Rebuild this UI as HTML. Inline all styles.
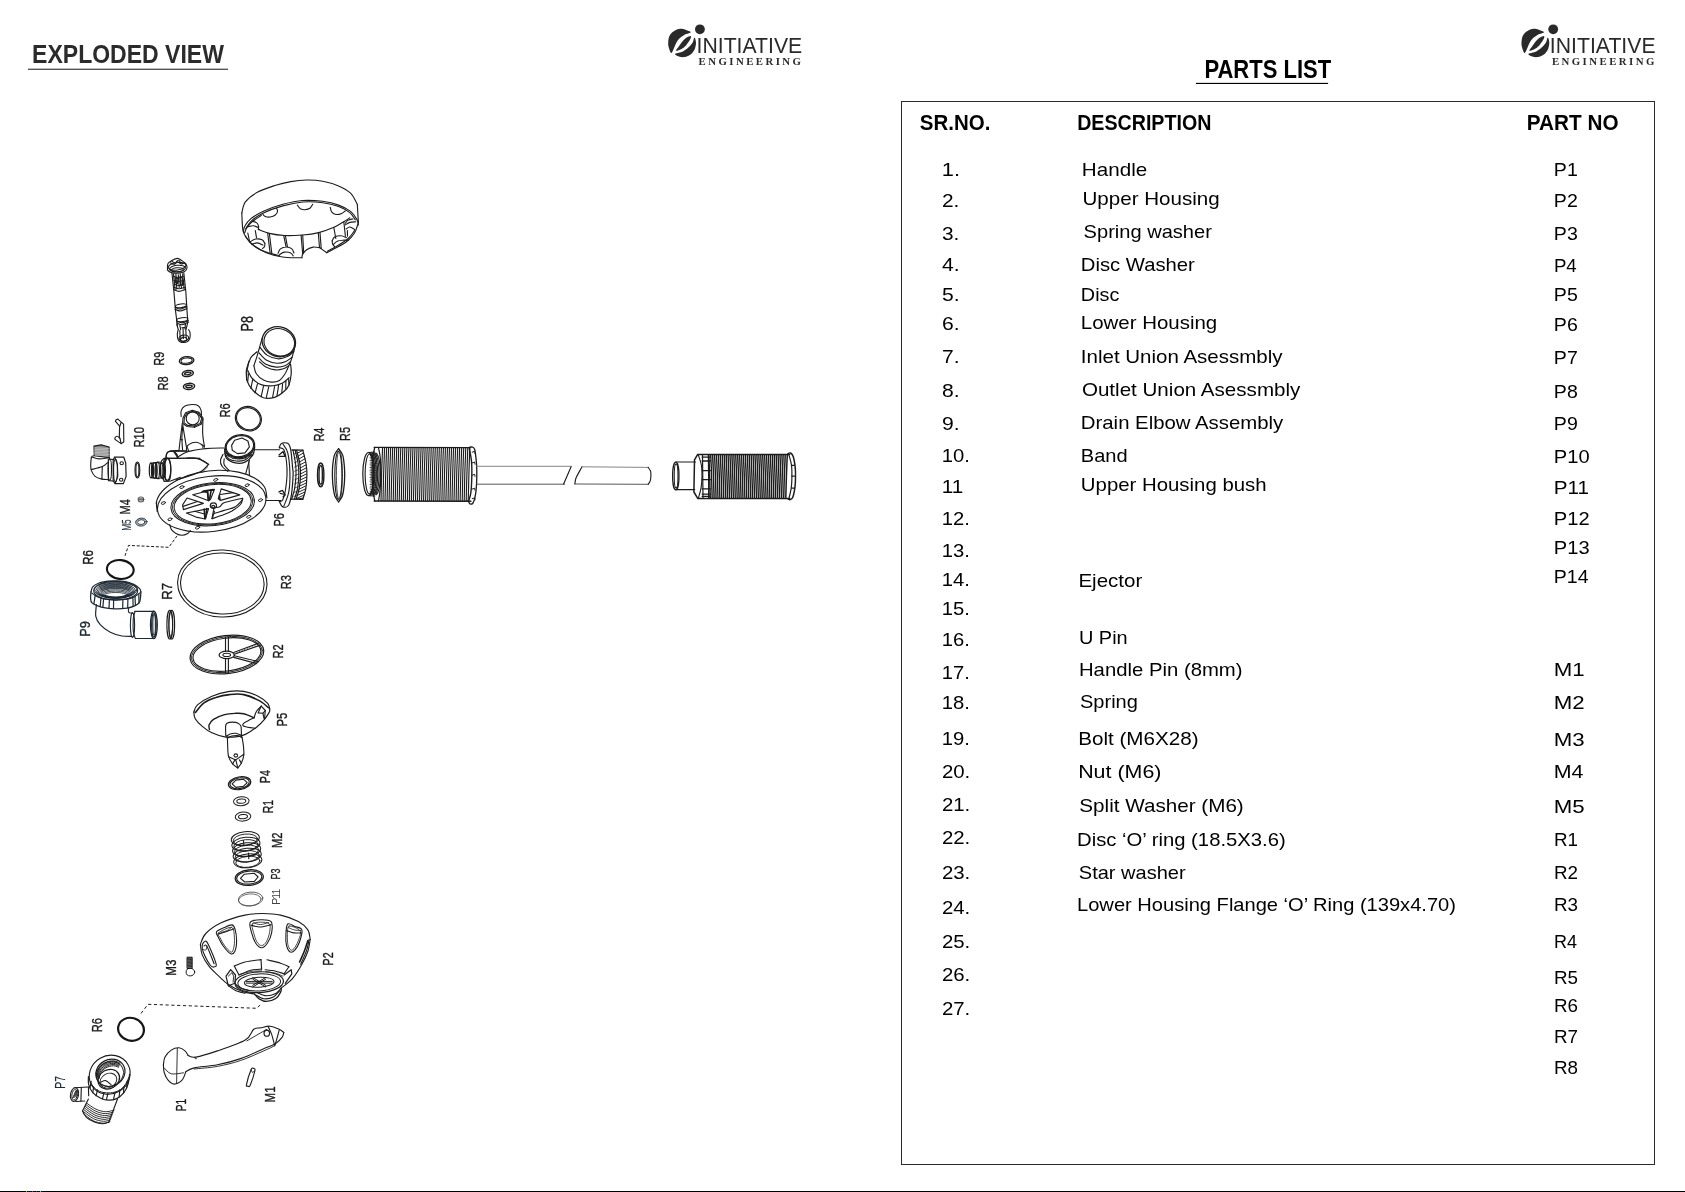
<!DOCTYPE html>
<html lang="en"><head><meta charset="utf-8"><title>Exploded View - Parts List</title>
<style>
html,body{margin:0;padding:0;background:#fff;}
body{width:1685px;height:1192px;overflow:hidden;position:relative;font-family:"Liberation Sans",sans-serif;}
svg{position:absolute;left:0;top:0;display:block;}
text{white-space:pre;}
</style></head><body>
<svg width="1685" height="1192" viewBox="0 0 1685 1192">
<rect x="0" y="0" width="1685" height="1192" fill="#fff"/>
<!-- frame lines -->
<rect x="28" y="68.7" width="200" height="1.1" fill="#2b2b2b"/>
<rect x="1195.9" y="82.85" width="132.2" height="1.15" fill="#000"/>
<rect x="901.5" y="101.5" width="753" height="1063" fill="none" stroke="#2b2b2b" stroke-width="1"/>
<rect x="0" y="1191" width="1685" height="1" fill="#000"/>
<rect x="26" y="1191" width="1" height="1" fill="#00ff00"/><rect x="28" y="1191" width="1" height="1" fill="#400000"/><rect x="30" y="1191" width="1" height="1" fill="#0000c0"/><rect x="32" y="1191" width="1" height="1" fill="#e02000"/><rect x="34" y="1191" width="1" height="1" fill="#000080"/><rect x="36" y="1191" width="1" height="1" fill="#006000"/><rect x="38" y="1191" width="1" height="1" fill="#0000c0"/><rect x="40" y="1191" width="1" height="1" fill="#20ff00"/><rect x="42" y="1191" width="1" height="1" fill="#0000e0"/>
<g id="logos">
<path d="M671.5 52.9 C670.5 53.5,669.6 49.9,669.0 48.2 C668.5 46.5,668.0 45.1,668.2 42.9 C668.3 40.7,668.5 37.3,669.8 35.2 C671.0 33.0,673.4 31.3,675.4 30.2 C677.4 29.2,679.9 28.8,681.7 28.8 C683.6 28.8,685.1 29.6,686.7 30.2 C688.2 30.8,691.2 31.6,690.9 32.3 C690.5 33.1,686.5 33.7,684.6 34.8 C682.6 35.9,680.4 37.4,678.9 39.0 C677.4 40.7,676.6 42.3,675.4 44.7 C674.2 47.0,672.6 52.4,671.5 52.9Z" fill="#2a2a2a" stroke="none"/>
<path d="M676.1 50.7 C676.5 51.1,679.4 50.1,681.0 49.2 C682.7 48.4,684.5 46.9,686.0 45.4 C687.4 43.8,689.0 41.6,689.8 40.1 C690.7 38.6,691.4 36.6,690.9 36.2 C690.4 35.8,688.1 36.7,686.7 37.6 C685.3 38.5,683.8 40.0,682.4 41.5 C681.1 43.0,679.6 45.3,678.6 46.8 C677.5 48.3,675.7 50.2,676.1 50.7Z" fill="#2a2a2a" stroke="none"/>
<path d="M675.0 54.0 C675.5 53.3,679.6 53.1,681.7 52.1 C683.9 51.0,686.3 49.4,688.1 47.8 C689.9 46.2,691.6 44.3,692.7 42.6 C693.7 40.8,693.9 37.6,694.4 37.6 C695.0 37.6,695.9 40.7,696.0 42.6 C696.1 44.4,695.6 47.0,694.8 48.9 C693.9 50.8,692.6 52.8,690.9 54.2 C689.2 55.5,686.5 56.6,684.6 57.0 C682.6 57.4,680.5 57.0,678.9 56.5 C677.3 56.0,674.6 54.7,675.0 54.0Z" fill="#2a2a2a" stroke="none"/>
<ellipse cx="699.9" cy="29.3" rx="4.9" ry="4.9" fill="#2a2a2a" stroke="none"/>
<path d="M1524.8 52.9 C1523.8 53.5,1522.9 49.9,1522.3 48.2 C1521.8 46.5,1521.3 45.1,1521.5 42.9 C1521.6 40.7,1521.8 37.3,1523.1 35.2 C1524.3 33.0,1526.7 31.3,1528.7 30.2 C1530.7 29.2,1533.2 28.8,1535.0 28.8 C1536.9 28.8,1538.4 29.6,1540.0 30.2 C1541.5 30.8,1544.5 31.6,1544.2 32.3 C1543.8 33.1,1539.8 33.7,1537.9 34.8 C1535.9 35.9,1533.7 37.4,1532.2 39.0 C1530.7 40.7,1529.9 42.3,1528.7 44.7 C1527.5 47.0,1525.9 52.4,1524.8 52.9Z" fill="#2a2a2a" stroke="none"/>
<path d="M1529.4 50.7 C1529.8 51.1,1532.7 50.1,1534.3 49.2 C1536.0 48.4,1537.8 46.9,1539.3 45.4 C1540.7 43.8,1542.3 41.6,1543.1 40.1 C1544.0 38.6,1544.7 36.6,1544.2 36.2 C1543.7 35.8,1541.4 36.7,1540.0 37.6 C1538.6 38.5,1537.1 40.0,1535.7 41.5 C1534.4 43.0,1532.9 45.3,1531.9 46.8 C1530.8 48.3,1529.0 50.2,1529.4 50.7Z" fill="#2a2a2a" stroke="none"/>
<path d="M1528.3 54.0 C1528.8 53.3,1532.9 53.1,1535.0 52.1 C1537.2 51.0,1539.6 49.4,1541.4 47.8 C1543.2 46.2,1544.9 44.3,1546.0 42.6 C1547.0 40.8,1547.2 37.6,1547.7 37.6 C1548.3 37.6,1549.2 40.7,1549.3 42.6 C1549.4 44.4,1548.9 47.0,1548.1 48.9 C1547.2 50.8,1545.9 52.8,1544.2 54.2 C1542.5 55.5,1539.8 56.6,1537.9 57.0 C1535.9 57.4,1533.8 57.0,1532.2 56.5 C1530.6 56.0,1527.9 54.7,1528.3 54.0Z" fill="#2a2a2a" stroke="none"/>
<ellipse cx="1553.2" cy="29.3" rx="4.9" ry="4.9" fill="#2a2a2a" stroke="none"/>
</g>

<g id="drawing" fill="none" stroke="#1c1c1c" stroke-width="1.12" stroke-linecap="round" stroke-linejoin="round">
<path d="M241.8 213.0 C242.4 211.2,242.8 205.3,245.4 201.9 C248.0 198.4,252.4 195.0,257.3 192.3 C262.2 189.6,269.3 187.3,274.8 185.5 C280.4 183.7,285.5 182.5,290.8 181.6 C296.1 180.6,301.4 180.0,306.7 180.0 C312.0 179.9,317.4 180.2,322.7 181.2 C328.0 182.2,334.0 183.9,338.6 185.9 C343.3 187.9,347.4 190.1,350.6 193.1 C353.7 196.2,356.2 202.4,357.3 204.3"/>
<path d="M357.3 204.3 L358.4 222.6"/>
<path d="M358.4 222.6 C357.7 224.3,356.5 229.8,354.5 233.0 C352.6 236.1,349.9 239.1,346.6 241.7 C343.3 244.3,337.9 246.7,334.6 248.5 C331.3 250.3,328.0 252.0,326.7 252.7"/>
<path d="M326.7 252.7 L323.1 250.1 L319.9 247.7"/>
<path d="M319.9 247.7 C318.7 247.6,315.3 246.8,313.1 247.1 C310.9 247.5,308.5 248.5,306.7 249.7 C305.0 250.9,303.5 252.8,302.7 254.1 C301.9 255.4,302.1 257.1,301.9 257.7"/>
<path d="M301.9 257.7 C300.1 257.7,294.5 257.9,290.8 257.7 C287.1 257.5,283.6 257.3,279.6 256.5 C275.6 255.7,271.0 254.5,266.9 252.9 C262.8 251.2,258.2 248.9,254.9 246.5 C251.6 244.1,248.9 241.2,247.0 238.5 C245.0 235.9,243.8 234.8,243.0 230.6 C242.1 226.3,242.0 216.0,241.8 213.0"/>
<path d="M243.4 231.4 C243.6 230.4,243.7 227.9,245.0 225.8 C246.2 223.7,248.0 221.0,250.9 218.6 C253.9 216.2,257.6 213.8,262.9 211.4 C268.2 209.1,276.2 206.1,282.8 204.3 C289.5 202.5,296.1 201.0,302.7 200.5 C309.4 200.0,316.7 200.6,322.7 201.3 C328.6 202.1,334.0 203.4,338.6 205.1 C343.3 206.8,347.5 209.1,350.6 211.4 C353.6 213.8,355.6 217.2,356.9 219.4 C358.2 221.7,358.1 224.1,358.4 225.0"/>
<path d="M245.8 228.6 C246.8 227.2,248.9 223.2,251.7 220.6 C254.6 218.0,257.7 215.7,262.9 213.2 C268.1 210.7,276.2 207.7,282.8 205.9 C289.5 204.0,296.1 202.6,302.7 202.0 C309.4 201.5,316.7 201.9,322.7 202.7 C328.6 203.4,334.1 204.8,338.6 206.5 C343.1 208.2,347.0 210.4,349.8 212.6 C352.6 214.9,354.4 218.6,355.3 219.8"/>
<path d="M244.6 233.0 C245.0 232.0,245.7 229.2,247.0 227.4 C248.2 225.5,249.7 223.8,252.1 221.8 C254.5 219.8,259.8 216.5,261.3 215.4"/>
<path d="M258.1 229.4 C260.0 230.0,264.9 232.3,269.3 233.4 C273.7 234.4,278.8 235.2,284.4 235.5 C290.0 235.8,297.0 235.4,302.7 235.0 C308.5 234.5,313.4 233.9,318.7 232.6 C324.0 231.2,330.4 228.8,334.6 227.0 C338.9 225.1,341.7 222.9,344.2 221.4 C346.7 219.9,348.8 218.4,349.8 217.8"/>
<path d="M262.5 213.7 C262.9 214.1,263.6 215.7,264.9 216.2 C266.1 216.8,268.3 217.3,270.1 217.0 C271.9 216.8,274.4 215.8,275.6 214.8 C276.9 213.8,277.5 211.9,277.6 210.8 C277.8 209.7,276.6 208.8,276.4 208.4"/>
<path d="M297.3 205.1 C297.8 205.7,299.1 207.9,300.4 208.7 C301.7 209.4,303.5 209.8,305.1 209.7 C306.7 209.6,308.7 209.2,309.9 208.3 C311.2 207.4,312.2 204.9,312.7 204.3"/>
<path d="M330.2 207.3 C330.5 208.1,330.8 211.0,331.8 212.2 C332.8 213.4,334.6 214.3,336.2 214.5 C337.9 214.7,340.3 214.0,341.8 213.4 C343.3 212.8,344.8 211.2,345.4 210.8"/>
<path d="M252.1 221.2 C252.9 221.4,255.5 221.8,256.5 222.6 C257.6 223.4,258.2 224.7,258.5 225.8 C258.8 226.9,258.5 228.8,258.5 229.4"/>
<path d="M247.8 226.7 C248.7 226.6,251.6 225.7,253.3 225.8 C255.1 225.9,257.3 227.2,258.1 227.5"/>
<path d="M345.4 223.2 C345.8 222.7,346.9 220.8,348.2 220.1 C349.4 219.3,352.2 219.2,353.0 219.0"/>
<path d="M345.0 225.0 C345.8 224.6,348.0 223.0,349.8 222.4 C351.6 221.9,354.7 221.9,355.7 221.8"/>
<path d="M346.2 229.0 C346.8 228.6,348.4 226.9,349.8 227.0 C351.2 227.1,353.8 229.0,354.5 229.4"/>
<path d="M267.7 233.4 L270.1 252.9"/>
<path d="M269.4 233.8 L271.8 253.4"/>
<path d="M283.8 235.8 L286.0 246.7"/>
<path d="M285.4 235.8 L287.4 246.7"/>
<path d="M301.1 235.4 L302.7 253.8"/>
<path d="M302.7 235.2 L303.7 252.9"/>
<path d="M318.3 233.0 L319.5 247.5"/>
<path d="M320.0 232.6 L321.2 248.5"/>
<path d="M333.8 227.4 L335.8 238.5"/>
<path d="M343.8 221.8 L345.4 236.1"/>
<path d="M347.4 230.6 L347.5 236.3"/>
<path d="M247.8 233.0 L249.7 242.1"/>
<path d="M255.3 230.6 L256.5 237.7"/>
<path d="M250.5 241.5 C251.4 241.1,253.8 239.3,255.7 239.0 C257.6 238.7,260.6 239.1,262.1 239.8 C263.6 240.6,264.4 242.9,264.9 243.5"/>
<path d="M251.7 244.3 C252.7 244.1,255.5 242.8,257.3 242.9 C259.2 243.1,262.0 244.7,262.9 245.1"/>
<path d="M264.9 243.5 C264.8 244.0,265.0 245.7,264.6 246.5 C264.2 247.3,262.9 248.2,262.5 248.5"/>
<path d="M278.0 253.3 C278.4 252.6,279.1 250.0,280.4 248.9 C281.8 247.9,284.1 247.0,286.0 247.0 C287.9 246.9,290.3 247.6,291.6 248.6 C292.9 249.6,293.6 252.3,294.0 253.0"/>
<path d="M279.6 254.6 C280.4 254.2,282.6 252.4,284.4 252.1 C286.3 251.8,289.3 252.2,290.8 252.9 C292.2 253.5,292.8 255.4,293.2 255.9"/>
<path d="M332.2 240.7 C332.6 240.1,333.2 237.9,334.6 237.1 C336.1 236.3,339.0 235.7,341.0 235.8 C343.0 235.9,345.6 237.4,346.6 237.7"/>
<path d="M333.4 244.3 C334.2 243.7,336.0 241.8,337.8 241.1 C339.6 240.4,342.4 240.3,344.2 240.1 C346.0 240.0,347.8 240.3,348.6 240.3"/>
<path d="M332.2 240.7 C332.3 241.3,332.2 243.1,332.6 244.1 C333.0 245.1,334.3 246.1,334.6 246.5"/>
<path d="M245.4 236.1 C246.3 237.3,248.4 241.1,250.9 243.3 C253.5 245.6,257.3 248.0,260.5 249.7 C263.7 251.4,266.9 252.3,270.1 253.3 C273.3 254.3,278.0 255.3,279.6 255.7"/>
<path d="M354.5 230.6 C353.5 231.9,351.2 235.9,348.2 238.5 C345.1 241.2,339.7 244.4,336.2 246.5 C332.8 248.6,328.9 250.5,327.4 251.3"/>
<path d="M167.5 268.5 C167.5 267.4,167.2 265.0,167.9 263.7 C168.6 262.4,170.3 261.4,171.9 260.5 C173.5 259.6,175.8 258.4,177.5 258.4 C179.1 258.4,180.2 259.6,181.6 260.5 C183.0 261.4,184.9 262.5,185.8 263.7 C186.7 265.0,187.2 266.7,187.0 268.0 C186.8 269.3,186.1 270.7,184.6 271.5 C183.2 272.4,180.4 272.9,178.3 273.1 C176.1 273.3,173.6 273.2,171.9 272.7 C170.2 272.3,168.6 271.2,167.9 270.5 C167.2 269.8,167.5 269.6,167.5 268.5Z"/>
<ellipse cx="177.1" cy="266.3" rx="8.9" ry="3.8" transform="rotate(-8 177.1 266.3)"/>
<ellipse cx="177.5" cy="268.5" rx="8.0" ry="3.2" transform="rotate(-5 177.5 268.5)"/>
<ellipse cx="177.5" cy="269.9" rx="5.7" ry="2.1" transform="rotate(-3 177.5 269.9)"/>
<path d="M170.3 262.8 C170.9 263.0,173.1 264.5,174.3 264.3 C175.5 264.2,176.3 262.0,177.5 262.0 C178.7 261.9,180.2 263.8,181.4 263.9 C182.6 264.1,184.1 263.0,184.6 262.8"/>
<path d="M171.9 261.2 C172.4 261.5,174.0 263.3,175.1 263.2 C176.1 263.0,177.3 260.0,178.3 260.0 C179.2 259.9,180.2 262.3,180.6 262.8"/>
<path d="M171.9 272.7 L173.9 291.4 L175.5 310.6 L177.5 326.5"/>
<path d="M183.8 272.7 L185.8 291.4 L187.0 310.6 L187.8 321.7"/>
<path d="M173.5 273.9 L175.1 289.8"/>
<path d="M182.6 273.9 L184.2 289.5"/>
<path d="M175.9 273.9 L176.8 289.1"/>
<path d="M180.2 273.9 L181.4 288.3"/>
<path d="M178.3 274.7 L179.2 287.5"/>
<path d="M173.5 276.3 C174.3 276.5,176.6 277.5,178.3 277.5 C179.9 277.5,182.6 276.5,183.4 276.3"/>
<path d="M173.9 280.3 C174.7 280.5,177.0 281.5,178.7 281.5 C180.3 281.5,183.0 280.5,183.8 280.3"/>
<path d="M174.3 284.3 C175.1 284.5,177.4 285.5,179.1 285.5 C180.7 285.5,183.4 284.5,184.2 284.3"/>
<path d="M173.9 289.8 C174.7 290.1,177.2 291.5,179.1 291.4 C181.0 291.4,184.2 289.8,185.3 289.5"/>
<path d="M174.3 287.5 C175.1 287.7,177.5 288.8,179.2 288.7 C180.9 288.7,183.7 287.5,184.6 287.3"/>
<path d="M175.1 277.9 L177.9 278.7 L177.5 283.5 L175.5 282.7Z"/>
<path d="M179.8 277.1 L182.2 277.5 L182.6 285.1 L180.6 285.1Z"/>
<ellipse cx="181.0" cy="305.8" rx="5.6" ry="1.8" transform="rotate(-8 181.0 305.8)"/>
<path d="M175.2 307.4 C176.1 307.7,178.7 309.2,180.6 309.1 C182.6 309.0,185.8 307.1,186.9 306.7"/>
<path d="M175.1 309.4 C176.0 309.6,178.7 311.1,180.6 311.0 C182.6 310.8,186.0 309.0,187.0 308.6"/>
<ellipse cx="182.2" cy="319.7" rx="5.7" ry="1.9" transform="rotate(-8 182.2 319.7)"/>
<path d="M176.5 320.9 C177.5 321.3,180.3 323.0,182.2 322.9 C184.2 322.9,187.2 320.9,188.2 320.5"/>
<path d="M176.7 322.9 C177.6 323.2,180.3 324.9,182.2 324.8 C184.2 324.6,187.3 322.6,188.3 322.1"/>
<path d="M176.8 324.5 L178.3 329.7"/>
<path d="M187.8 322.1 L186.2 328.9"/>
<path d="M179.8 324.9 L180.6 329.7"/>
<path d="M185.4 324.1 L185.0 328.9"/>
<path d="M178.1 329.7 C178.0 330.5,177.3 332.8,177.3 334.5 C177.3 336.2,177.6 338.7,178.3 340.1 C178.9 341.4,180.0 342.2,181.4 342.4 C182.9 342.7,185.6 342.3,187.0 341.7 C188.4 341.0,189.3 339.9,189.8 338.5 C190.3 337.0,190.2 334.3,190.1 332.9 C189.9 331.4,188.9 330.2,188.6 329.7"/>
<ellipse cx="183.8" cy="338.1" rx="4.9" ry="3.0" transform="rotate(-10 183.8 338.1)"/>
<path d="M179.8 330.5 L180.2 339.3"/>
<path d="M183.0 327.7 L183.4 338.5"/>
<path d="M185.8 328.5 L186.2 338.5"/>
<path d="M181.8 327.7 L185.0 327.5"/>
<ellipse cx="183.7" cy="339.3" rx="3.2" ry="2.0" transform="rotate(-10 183.7 339.3)"/>
<ellipse cx="278.8" cy="341.7" rx="16.9" ry="14.8" transform="rotate(18 278.8 341.7)" stroke-width="1.3"/>
<ellipse cx="279.3" cy="342.3" rx="15.5" ry="13.5" transform="rotate(18 279.3 342.3)"/>
<path d="M260.1 347.5 C261.3 348.8,264.5 353.5,267.5 355.4 C270.4 357.3,274.5 358.6,277.8 358.8 C281.1 359.0,284.7 357.8,287.4 356.6 C290.0 355.4,292.7 352.3,293.8 351.4"/>
<path d="M259.2 353.0 C260.4 354.2,263.7 358.5,266.7 360.2 C269.6 361.9,273.8 363.0,277.0 363.2 C280.2 363.4,283.3 362.4,285.8 361.4 C288.3 360.4,291.1 357.9,292.2 357.2"/>
<path d="M258.9 357.8 C260.0 358.9,263.0 362.7,265.9 364.2 C268.8 365.7,273.0 366.8,276.2 367.1 C279.4 367.3,282.6 366.7,285.0 365.8 C287.3 364.9,289.4 362.5,290.3 361.8"/>
<path d="M259.6 361.8 C260.7 362.7,263.2 365.6,265.9 367.0 C268.5 368.3,272.5 369.6,275.4 369.9 C278.4 370.2,281.2 369.5,283.4 368.8 C285.6 368.1,287.8 366.3,288.7 365.8"/>
<path d="M262.3 337.9 C261.8 339.5,260.3 344.7,259.5 347.5 C258.7 350.2,258.4 351.6,257.5 354.6 C256.6 357.7,254.5 363.9,253.9 365.8"/>
<path d="M295.5 343.5 C295.2 344.8,294.6 348.4,293.8 351.4 C292.9 354.5,291.6 358.9,290.6 361.8 C289.5 364.7,287.9 367.8,287.4 369.0"/>
<path d="M253.9 365.8 C254.3 367.1,254.7 371.4,256.3 373.8 C257.9 376.1,260.9 378.7,263.5 380.1 C266.0 381.5,268.8 382.1,271.4 382.1 C274.1 382.2,277.2 381.9,279.4 380.5 C281.7 379.1,283.7 375.7,285.0 373.8 C286.3 371.8,287.0 369.8,287.4 369.0"/>
<path d="M257.1 351.8 C256.0 352.8,252.4 354.8,250.7 357.8 C249.1 360.8,247.7 365.9,247.1 369.8 C246.5 373.6,246.1 377.5,247.1 380.9 C248.1 384.4,250.4 387.7,253.1 390.5 C255.8 393.3,259.9 396.5,263.5 397.7 C267.1 398.8,271.2 398.3,274.6 397.3 C278.1 396.2,281.8 393.4,284.2 391.3 C286.6 389.2,287.8 387.8,289.0 384.9 C290.1 382.0,290.9 377.2,291.2 373.8 C291.5 370.3,290.7 365.8,290.6 364.2" stroke-width="1.2"/>
<path d="M247.9 370.6 C248.7 371.9,250.0 376.1,252.3 378.5 C254.6 380.9,258.4 383.7,261.9 384.9 C265.3 386.1,269.6 386.0,273.0 385.7 C276.5 385.4,279.9 384.3,282.6 382.9 C285.3 381.6,288.0 378.6,289.1 377.7"/>
<path d="M249.1 361.0 C248.7 362.6,246.7 367.4,246.3 370.6 C245.9 373.8,246.7 378.5,246.7 380.1"/>
<path d="M248.5 373.8 L247.7 381.7"/>
<path d="M252.7 379.3 L250.9 388.5"/>
<path d="M257.5 383.7 L255.1 392.9"/>
<path d="M263.5 386.1 L261.1 396.9"/>
<path d="M268.7 386.9 L266.3 397.7"/>
<path d="M274.6 386.5 L272.6 397.3"/>
<path d="M278.6 385.3 L277.0 395.7"/>
<path d="M282.6 383.7 L281.8 392.9"/>
<path d="M285.8 381.3 L285.8 388.9"/>
<path d="M288.6 378.9 L289.0 384.9"/>
<ellipse cx="186.6" cy="360.6" rx="7.3" ry="4.0" transform="rotate(-6 186.6 360.6)" stroke-width="1.3"/>
<ellipse cx="186.6" cy="360.6" rx="5.6" ry="2.6" transform="rotate(-6 186.6 360.6)" stroke-width="1.1"/>
<ellipse cx="187.8" cy="373.5" rx="5.6" ry="3.0" transform="rotate(-10 187.8 373.5)" stroke-width="1.5"/>
<ellipse cx="187.8" cy="373.5" rx="3.2" ry="1.2" transform="rotate(-10 187.8 373.5)" stroke-width="1.5"/>
<ellipse cx="189.0" cy="386.4" rx="5.6" ry="3.0" transform="rotate(-6 189.0 386.4)" stroke-width="1.5"/>
<ellipse cx="189.0" cy="386.4" rx="3.2" ry="1.2" transform="rotate(-6 189.0 386.4)" stroke-width="1.5"/>
<ellipse cx="248.4" cy="418.7" rx="13.2" ry="12.0" transform="rotate(25 248.4 418.7)" stroke-width="1.2"/>
<ellipse cx="248.4" cy="418.7" rx="12.1" ry="10.8" transform="rotate(25 248.4 418.7)"/>
<path d="M157.2 511.5 C157.2 509.6,155.7 504.0,156.9 500.2 C158.1 496.5,160.8 492.4,164.4 489.0 C168.0 485.5,173.1 482.1,178.6 479.4 C184.1 476.7,190.9 474.4,197.5 472.9 C204.2 471.4,211.7 470.4,218.5 470.3 C225.3 470.2,232.4 470.8,238.4 472.1 C244.4 473.3,250.2 475.4,254.5 477.9 C258.9 480.4,262.4 483.6,264.5 487.0 C266.6 490.4,266.5 496.2,266.9 498.0"/>
<ellipse cx="211.7" cy="503.9" rx="54.5" ry="27.6" transform="rotate(-7 211.7 503.9)"/>
<ellipse cx="212.7" cy="504.2" rx="41.9" ry="21.4" transform="rotate(-6 212.7 504.2)" stroke-width="1.05"/>
<ellipse cx="212.7" cy="504.2" rx="40.4" ry="20.5" transform="rotate(-6 212.7 504.2)" stroke-width="0.9"/>
<ellipse cx="212.7" cy="504.2" rx="38.7" ry="19.6" transform="rotate(-6 212.7 504.2)" stroke-width="1.05"/>
<ellipse cx="163.4" cy="503.0" rx="2.2" ry="1.2" transform="rotate(-20 163.4 503.0)" stroke-width="0.9"/>
<ellipse cx="181.9" cy="487.1" rx="2.2" ry="1.2" transform="rotate(-20 181.9 487.1)" stroke-width="0.9"/>
<ellipse cx="215.7" cy="479.9" rx="2.2" ry="1.2" transform="rotate(-20 215.7 479.9)" stroke-width="0.9"/>
<ellipse cx="247.2" cy="485.2" rx="2.2" ry="1.2" transform="rotate(-20 247.2 485.2)" stroke-width="0.9"/>
<ellipse cx="260.5" cy="500.1" rx="2.2" ry="1.2" transform="rotate(-20 260.5 500.1)" stroke-width="0.9"/>
<ellipse cx="248.7" cy="516.8" rx="2.2" ry="1.2" transform="rotate(-20 248.7 516.8)" stroke-width="0.9"/>
<ellipse cx="197.5" cy="527.7" rx="2.2" ry="1.2" transform="rotate(-20 197.5 527.7)" stroke-width="0.9"/>
<ellipse cx="170.0" cy="519.3" rx="2.2" ry="1.2" transform="rotate(-20 170.0 519.3)" stroke-width="0.9"/>
<ellipse cx="213.4" cy="505.6" rx="3.1" ry="2.8" stroke-width="1.2"/>
<ellipse cx="213.2" cy="506.6" rx="1.5" ry="1.2"/>
<path d="M192.7 494.7 L214.5 489.3 L210.5 499.3 L208.6 500.8Z"/>
<path d="M201.9 491.5 L207.9 492.6 L208.6 500.7"/>
<path d="M207.5 491.9 L208.2 500.1" stroke-width="1.6"/>
<path d="M211.2 489.8 L209.5 499.5" stroke-width="1.6"/>
<path d="M203.4 491.2 L213.1 489.7" stroke-width="1.8"/>
<path d="M187.1 498.0 L203.4 503.4 L183.4 509.6 L182.6 504.9Z"/>
<path d="M183.0 506.4 L197.5 501.5"/>
<path d="M186.4 513.0 L208.6 508.6 L205.3 519.0 L196.0 517.1Z"/>
<path d="M194.5 511.2 L204.5 514.0"/>
<path d="M204.2 509.0 L204.9 518.6" stroke-width="1.6"/>
<path d="M206.8 508.6 L205.6 517.9" stroke-width="1.6"/>
<path d="M221.2 488.9 L239.8 494.9 L220.5 500.4 L218.2 498.9Z"/>
<path d="M220.1 494.5 L233.1 492.6"/>
<path d="M219.4 495.6 L220.1 500.1" stroke-width="1.5"/>
<path d="M215.3 507.5 C216.0 507.4,218.4 507.5,219.7 506.7 C221.1 506.0,221.5 504.0,223.4 503.0 C225.4 502.0,228.4 501.6,231.6 500.8 C234.8 500.0,240.9 498.6,242.7 498.2"/>
<path d="M242.7 498.2 C242.4 499.3,242.4 502.3,240.5 504.5 C238.6 506.7,234.8 509.3,231.6 511.2 C228.4 513.0,224.4 514.4,221.2 515.6 C218.0 516.9,213.8 518.1,212.3 518.6"/>
<path d="M212.3 518.6 L214.5 511.2"/>
<path d="M214.2 513.6 C215.8 513.0,220.7 511.6,224.2 510.4 C227.7 509.3,232.2 508.6,235.3 506.7 C238.4 504.9,241.5 500.6,242.7 499.3"/>
<path d="M213.9 508.6 L211.9 518.6"/>
<path d="M169.7 524.5 C170.0 525.4,170.5 528.2,171.5 529.7 C172.6 531.2,174.2 532.5,176.0 533.4 C177.7 534.4,179.9 535.3,181.9 535.3 C183.9 535.3,186.4 534.2,187.8 533.4 C189.3 532.6,190.0 531.0,190.4 530.5"/>
<path d="M156.1 502.7 L157.4 507.5"/>
<path d="M181.2 416.5 C181.2 415.5,180.5 412.3,181.2 410.6 C181.8 408.8,183.0 407.1,184.9 406.1 C186.7 405.1,190.1 404.6,192.3 404.5 C194.5 404.4,196.7 404.7,198.2 405.8 C199.7 406.8,200.7 408.7,201.2 410.6 C201.7 412.5,201.2 416.1,201.2 417.3"/>
<path d="M183.0 418.0 L185.6 412.8 L192.3 410.2 L199.0 412.4 L203.0 418.0 L201.2 424.3 L194.5 427.3 L187.1 426.5 L182.6 423.2Z"/>
<path d="M184.3 418.1 L186.5 413.7 L192.3 411.5 L198.2 413.4 L201.7 418.1 L200.1 423.6 L194.4 426.0 L187.5 425.4 L184.0 422.6Z"/>
<ellipse cx="192.7" cy="418.4" rx="6.5" ry="6.5"/>
<path d="M194.4 426.0 L194.5 427.3"/>
<path d="M182.3 423.2 C182.0 425.7,181.0 433.5,180.4 438.0 C179.9 442.6,179.2 448.5,178.9 450.6"/>
<path d="M183.0 424.7 C182.8 426.7,182.0 432.2,181.9 436.5 C181.8 440.9,182.5 448.3,182.6 450.6"/>
<path d="M183.0 426.9 L186.4 446.9"/>
<path d="M203.0 418.7 C203.0 421.2,202.4 428.9,202.7 433.6 C202.9 438.3,204.2 444.7,204.5 446.9"/>
<path d="M186.4 450.6 C186.5 449.9,186.1 447.5,187.1 446.2 C188.1 444.9,190.6 443.5,192.3 442.8 C194.0 442.2,195.9 442.2,197.5 442.5 C199.1 442.8,200.8 444.0,201.9 444.7 C203.1 445.4,204.1 446.6,204.5 446.9"/>
<path d="M187.1 446.9 L188.6 450.6"/>
<path d="M180.4 439.5 L182.6 439.9"/>
<path d="M201.9 444.7 C202.1 445.0,202.9 445.6,203.0 446.2 C203.2 446.7,202.9 447.7,202.8 448.0"/>
<path d="M178.9 450.6 C177.4 450.7,172.1 450.5,170.0 451.0 C168.0 451.5,167.4 452.4,166.7 453.6 C166.0 454.8,166.1 457.3,165.9 458.1"/>
<path d="M174.9 452.1 C175.2 452.5,176.3 453.4,176.7 454.3 C177.1 455.3,177.3 457.1,177.4 457.7"/>
<path d="M174.1 452.5 L176.0 455.5" stroke-width="0.7"/>
<path d="M175.0 453.1 L176.7 456.2" stroke-width="0.7"/>
<path d="M175.9 453.7 L177.4 456.9" stroke-width="0.7"/>
<path d="M176.8 454.3 L178.2 457.7" stroke-width="0.7"/>
<path d="M177.4 457.3 C179.2 456.4,183.1 453.2,187.8 451.8 C192.5 450.3,199.6 449.2,205.6 448.6 C211.7 447.9,221.1 448.1,224.2 448.0"/>
<path d="M178.9 450.8 L187.1 451.0"/>
<path d="M164.1 458.4 L177.4 458.4"/>
<path d="M177.4 458.4 C180.3 458.4,190.4 457.7,194.5 458.1 C198.6 458.4,199.6 459.2,201.9 460.3 C204.3 461.3,207.5 463.7,208.6 464.4"/>
<path d="M187.1 458.1 C188.9 458.1,194.6 457.5,198.2 458.6 C201.8 459.6,206.9 463.4,208.6 464.4"/>
<path d="M208.6 464.4 C208.0 465.0,206.3 467.2,204.9 468.4 C203.5 469.7,202.7 470.7,200.4 471.8 C198.2 472.9,195.6 473.7,191.5 475.1 C187.5 476.5,178.6 479.2,176.0 480.0"/>
<path d="M201.2 471.4 L202.3 472.2" stroke-width="0.8"/>
<path d="M202.2 470.4 L203.3 471.1" stroke-width="0.8"/>
<path d="M203.3 469.3 L204.4 470.1" stroke-width="0.8"/>
<path d="M204.3 468.3 L205.4 469.0" stroke-width="0.8"/>
<path d="M205.3 467.3 L206.5 468.0" stroke-width="0.8"/>
<path d="M206.4 466.2 L207.5 467.0" stroke-width="0.8"/>
<ellipse cx="167.2" cy="469.2" rx="3.6" ry="11.1"/>
<path d="M164.1 458.4 C163.6 459.0,161.7 460.0,161.1 461.8 C160.5 463.6,160.4 466.7,160.4 469.2 C160.4 471.7,160.5 474.8,161.1 476.6 C161.7 478.4,163.6 479.4,164.1 480.0"/>
<ellipse cx="239.9" cy="446.2" rx="14.8" ry="11.3" transform="rotate(-12 239.9 446.2)" stroke-width="1.3"/>
<ellipse cx="239.9" cy="446.2" rx="13.8" ry="10.4" transform="rotate(-12 239.9 446.2)"/>
<path d="M231.6 445.4 L234.6 440.3 L242.0 438.0 L247.9 441.0 L249.4 446.9 L245.0 452.9 L237.5 453.6 L232.3 450.3Z"/>
<path d="M224.6 449.2 C224.9 450.6,224.6 455.8,226.4 458.1 C228.2 460.3,232.2 462.2,235.3 462.9 C238.4 463.6,242.0 463.4,245.0 462.1 C247.9 460.8,251.1 457.6,252.7 455.1 C254.4 452.6,254.4 448.3,254.7 446.9" stroke-width="1.3"/>
<path d="M224.9 452.9 C225.5 453.9,226.8 457.4,228.6 458.8 C230.5 460.2,233.3 460.8,236.1 461.0 C238.8 461.2,242.4 461.0,245.0 459.9 C247.6 458.8,250.5 455.3,251.6 454.3"/>
<path d="M224.9 451.0 C225.7 451.9,227.4 455.3,229.4 456.6 C231.4 457.9,234.2 458.6,236.8 458.8 C239.4 459.0,242.4 458.8,245.0 457.7 C247.6 456.6,251.1 453.0,252.4 452.1"/>
<path d="M226.4 456.2 L228.0 454.7" stroke-width="0.9"/>
<path d="M228.3 456.2 L229.9 454.7" stroke-width="0.9"/>
<path d="M230.1 456.2 L231.8 454.7" stroke-width="0.9"/>
<path d="M232.0 458.8 L233.6 457.3" stroke-width="0.9"/>
<path d="M233.8 458.8 L235.5 457.3" stroke-width="0.9"/>
<path d="M235.7 458.8 L237.3 457.3" stroke-width="0.9"/>
<path d="M237.5 458.8 L239.2 457.3" stroke-width="0.9"/>
<path d="M239.4 458.8 L241.0 457.3" stroke-width="0.9"/>
<path d="M241.2 458.8 L242.9 457.3" stroke-width="0.9"/>
<path d="M243.1 458.8 L244.7 457.3" stroke-width="0.9"/>
<path d="M245.0 458.8 L246.6 457.3" stroke-width="0.9"/>
<path d="M246.8 456.2 L248.4 454.7" stroke-width="0.9"/>
<path d="M248.7 456.2 L250.3 454.7" stroke-width="0.9"/>
<path d="M250.5 456.2 L252.2 454.7" stroke-width="0.9"/>
<path d="M223.1 454.3 C222.6 455.3,220.7 458.3,220.5 460.3 C220.3 462.3,220.7 464.4,222.0 466.2 C223.2 468.1,226.9 470.5,227.9 471.4"/>
<path d="M224.2 458.8 C224.2 459.8,223.3 462.8,224.2 464.7 C225.0 466.7,228.5 469.7,229.4 470.7"/>
<path d="M249.4 460.3 L245.7 473.6"/>
<path d="M248.7 461.8 L249.4 474.4"/>
<path d="M254.7 449.7 L279.5 449.7"/>
<path d="M266.4 500.5 L281.1 500.5"/>
<path d="M279.3 447.7 C279.7 447.1,279.8 444.5,281.2 443.7 C282.6 443.0,286.1 442.3,287.7 443.3 C289.2 444.3,289.9 445.6,290.7 449.6 C291.5 453.7,292.2 463.5,292.6 467.8 C293.0 472.0,293.3 470.8,293.1 475.3 C292.9 479.8,292.2 489.9,291.4 494.9 C290.6 500.0,289.9 503.6,288.4 505.5 C286.9 507.5,283.9 507.3,282.4 506.6 C280.9 505.9,279.8 502.2,279.3 501.4" stroke-width="1.2"/>
<path d="M279.3 447.7 C280.1 448.1,282.7 447.5,283.9 449.8 C285.1 452.1,286.0 457.5,286.5 461.7 C287.0 466.0,287.2 470.5,287.0 475.3 C286.9 480.1,286.1 486.2,285.4 490.4 C284.6 494.6,283.5 498.4,282.5 500.2 C281.5 502.0,279.9 501.2,279.3 501.4"/>
<path d="M283.1 444.3 C283.9 445.7,286.5 448.0,287.7 452.7 C288.8 457.3,289.7 465.7,289.9 472.3 C290.1 478.8,289.8 486.3,288.8 491.9 C287.8 497.5,284.7 503.6,283.9 505.9"/>
<path d="M279.0 454.9 L283.1 451.5 L285.0 456.4" stroke-width="1.3"/>
<path d="M279.0 456.4 L285.0 456.4" stroke-width="1.3"/>
<path d="M279.0 491.9 L282.4 490.4 L285.2 494.9 L283.1 496.8" stroke-width="1.3"/>
<path d="M280.1 493.4 L283.9 494.2"/>
<path d="M292.0 450.0 L302.8 450.2" stroke-width="1.3"/>
<path d="M290.3 499.1 L302.8 499.3" stroke-width="1.3"/>
<path d="M302.8 450.2 C303.3 452.5,305.5 459.8,306.1 464.0 C306.8 468.2,307.0 471.1,306.9 475.3 C306.8 479.5,306.5 484.9,305.8 488.9 C305.1 492.9,303.3 497.6,302.8 499.3" stroke-width="1.2"/>
<path d="M293.1 450.4 C293.5 452.7,295.1 459.8,295.6 464.0 C296.1 468.1,296.1 471.1,296.0 475.3 C295.8 479.5,295.3 484.9,294.6 488.9 C293.9 492.9,292.1 497.4,291.6 499.1"/>
<path d="M295.2 450.4 C295.7 452.7,297.6 459.8,298.2 464.0 C298.8 468.1,298.9 471.1,298.8 475.3 C298.6 479.5,298.2 484.9,297.5 488.9 C296.7 492.9,294.9 497.4,294.4 499.1"/>
<path d="M296.7 450.4 C297.2 452.7,299.3 459.8,299.9 464.0 C300.5 468.1,300.6 471.1,300.5 475.3 C300.4 479.5,299.9 484.9,299.1 488.9 C298.4 492.9,296.5 497.4,296.0 499.1" stroke-width="1.2"/>
<path d="M297.5 453.0 L302.9 450.4" stroke-width="0.95"/>
<path d="M298.2 456.0 L303.7 452.8" stroke-width="0.95"/>
<path d="M298.8 459.0 L304.5 455.8" stroke-width="0.95"/>
<path d="M299.3 462.0 L305.1 458.8" stroke-width="0.95"/>
<path d="M299.7 465.0 L305.6 461.9" stroke-width="0.95"/>
<path d="M299.9 468.1 L306.0 464.9" stroke-width="0.95"/>
<path d="M300.1 471.1 L306.3 467.9" stroke-width="0.95"/>
<path d="M300.2 474.1 L306.4 470.9" stroke-width="0.95"/>
<path d="M300.2 477.1 L306.5 473.9" stroke-width="0.95"/>
<path d="M300.0 480.1 L306.5 477.0" stroke-width="0.95"/>
<path d="M299.8 483.2 L306.4 480.0" stroke-width="0.95"/>
<path d="M299.4 486.2 L306.1 483.0" stroke-width="0.95"/>
<path d="M299.0 489.2 L305.7 486.0" stroke-width="0.95"/>
<path d="M298.4 492.2 L305.3 489.0" stroke-width="0.95"/>
<path d="M297.8 495.2 L304.7 492.1" stroke-width="0.95"/>
<path d="M297.0 498.3 L304.0 495.1" stroke-width="0.95"/>
<path d="M296.2 499.1 L303.3 498.1" stroke-width="0.95"/>
<path d="M293.7 454.3 L297.1 452.7" stroke-width="0.7"/>
<path d="M294.1 458.5 L297.7 456.9" stroke-width="0.7"/>
<path d="M294.4 462.8 L298.2 461.1" stroke-width="0.7"/>
<path d="M294.6 467.0 L298.5 465.3" stroke-width="0.7"/>
<path d="M294.8 471.2 L298.7 469.6" stroke-width="0.7"/>
<path d="M294.8 475.5 L298.8 473.8" stroke-width="0.7"/>
<path d="M294.8 479.7 L298.8 478.0" stroke-width="0.7"/>
<path d="M294.7 483.9 L298.6 482.2" stroke-width="0.7"/>
<path d="M294.5 488.1 L298.3 486.5" stroke-width="0.7"/>
<path d="M294.2 492.4 L297.9 490.7" stroke-width="0.7"/>
<path d="M293.8 496.6 L297.4 494.9" stroke-width="0.7"/>
<ellipse cx="320.7" cy="474.9" rx="3.2" ry="11.9" stroke-width="1.4"/>
<ellipse cx="320.7" cy="474.9" rx="1.7" ry="9.4" stroke-width="1.4"/>
<path d="M338.6 448.7 C337.9 449.8,335.4 452.1,334.5 454.9 C333.5 457.7,333.1 462.1,332.7 465.5 C332.4 468.9,332.4 471.9,332.4 475.3 C332.5 478.7,332.6 482.5,333.0 485.9 C333.4 489.3,333.9 493.0,334.8 495.7 C335.8 498.4,338.0 500.8,338.6 501.9" stroke-width="1.3"/>
<path d="M338.6 448.7 C339.3 449.8,341.7 452.1,342.6 454.9 C343.6 457.7,343.9 462.1,344.3 465.5 C344.6 468.9,344.7 471.9,344.7 475.3 C344.6 478.7,344.5 482.5,344.1 485.9 C343.8 489.3,343.3 493.0,342.4 495.7 C341.5 498.4,339.2 500.8,338.6 501.9" stroke-width="1.3"/>
<ellipse cx="338.4" cy="475.3" rx="3.6" ry="24.0"/>
<ellipse cx="339.4" cy="475.3" rx="3.0" ry="24.9" stroke-width="0.8"/>
<path d="M115.5 421.3 C115.6 421.0,115.9 420.0,116.2 419.7 C116.6 419.3,117.5 419.3,117.8 419.2"/>
<path d="M117.8 419.2 L123.6 424.2 L123.8 442.1 L121.1 443.6 L115.3 439.6"/>
<path d="M115.3 439.6 C115.3 439.3,114.5 438.5,114.9 437.9 C115.2 437.4,116.5 436.2,117.4 436.3 C118.2 436.3,119.6 438.0,120.0 438.3"/>
<path d="M115.5 421.3 L119.6 426.2 L119.3 437.9"/>
<path d="M121.1 422.5 L119.9 426.0"/>
<path d="M120.0 438.3 L121.1 443.6"/>
<path d="M94.0 446.2 L101.1 444.9 L109.1 447.0 L109.1 457.6 L94.3 455.7Z" fill="#8a8a8a" stroke-width="1.2"/>
<path d="M94.3 447.8 L109.1 448.5" stroke="#ddd" stroke-width="0.6"/>
<path d="M94.3 449.3 L109.1 450.0" stroke="#ddd" stroke-width="0.6"/>
<path d="M94.3 450.8 L109.1 451.5" stroke="#ddd" stroke-width="0.6"/>
<path d="M94.3 452.3 L109.1 453.0" stroke="#ddd" stroke-width="0.6"/>
<path d="M94.3 453.8 L109.1 454.5" stroke="#ddd" stroke-width="0.6"/>
<path d="M94.3 455.3 L109.1 456.1" stroke="#ddd" stroke-width="0.6"/>
<path d="M94.3 455.7 C94.0 455.7,93.0 455.7,92.5 456.1 C92.0 456.4,91.5 457.3,91.3 457.6"/>
<path d="M91.3 457.6 C91.2 458.7,90.7 462.2,90.7 464.4 C90.7 466.5,90.6 468.4,91.3 470.4 C92.1 472.4,93.3 475.0,95.1 476.4 C96.9 477.9,99.7 478.6,101.9 479.1 C104.1 479.6,107.2 479.4,108.3 479.5"/>
<path d="M109.1 457.6 L109.8 459.1 L113.2 459.5"/>
<path d="M91.3 469.6 C93.2 469.1,99.4 467.9,102.3 466.6 C105.1 465.4,107.3 462.9,108.3 462.1"/>
<path d="M102.3 466.6 L101.9 479.1"/>
<path d="M92.5 457.2 C93.5 457.5,96.1 458.8,98.9 458.9 C101.6 459.0,107.4 457.9,109.1 457.7"/>
<path d="M108.3 459.1 L108.3 480.6 L113.2 481.0"/>
<ellipse cx="109.8" cy="469.6" rx="1.7" ry="10.6"/>
<path d="M113.2 459.5 L114.7 457.2 L123.8 457.2 L125.7 462.9 L126.1 476.4 L123.4 483.6 L115.1 483.6 L113.2 481.0Z" stroke-width="1.2"/>
<path d="M114.7 457.2 L117.4 464.4 L117.8 476.4 L115.1 483.6"/>
<ellipse cx="121.7" cy="463.2" rx="1.7" ry="1.5"/>
<ellipse cx="121.2" cy="479.8" rx="1.7" ry="1.5"/>
<ellipse cx="115.5" cy="470.4" rx="1.9" ry="11.3"/>
<ellipse cx="137.4" cy="470.0" rx="2.4" ry="8.0"/>
<ellipse cx="137.4" cy="470.0" rx="1.5" ry="6.9"/>
<ellipse cx="151.0" cy="470.4" rx="1.7" ry="7.2" stroke-width="1.2"/>
<ellipse cx="154.4" cy="470.4" rx="1.7" ry="7.7" stroke-width="1.2"/>
<ellipse cx="157.8" cy="470.4" rx="1.7" ry="8.2" stroke-width="1.2"/>
<path d="M150.2 463.2 L159.3 462.1"/>
<path d="M150.4 477.6 L159.3 478.7"/>
<ellipse cx="152.5" cy="470.4" rx="1.1" ry="6.8"/>
<ellipse cx="156.1" cy="470.4" rx="1.1" ry="7.2"/>
<ellipse cx="162.1" cy="470.4" rx="1.9" ry="7.6" stroke-width="1.2"/>
<ellipse cx="163.8" cy="470.4" rx="1.7" ry="7.2"/>
<path d="M159.3 463.2 L161.9 462.9"/>
<path d="M159.3 478.0 L161.9 478.0"/>
<path d="M163.1 462.9 L164.9 458.3 L200.0 458.3"/>
<path d="M163.1 478.0 L164.0 481.4 L170.6 481.0 L180.4 477.3"/>
<ellipse cx="167.7" cy="470.0" rx="3.2" ry="11.5"/>
<path d="M166.1 457.4 C166.2 456.8,166.2 454.8,166.8 453.8 C167.5 452.8,166.5 451.8,169.8 451.4 C173.2 450.9,184.3 451.2,187.2 451.1"/>
<path d="M173.6 451.7 C174.1 452.2,176.0 453.5,176.6 454.5 C177.3 455.6,177.3 457.4,177.4 457.9"/>
<ellipse cx="368.4" cy="474.1" rx="5.6" ry="21.4" stroke-width="1.2"/>
<ellipse cx="369.4" cy="474.1" rx="4.3" ry="19.8"/>
<path d="M368.4 452.5 L374.8 452.2" stroke-width="1.2"/>
<path d="M368.4 495.7 L374.8 496.0" stroke-width="1.2"/>
<path d="M370.8 453.5 C371.1 453.9,371.9 454.8,372.4 456.0 C372.9 457.2,373.4 458.8,373.7 460.6 C374.1 462.5,374.4 464.7,374.6 466.9 C374.8 469.2,374.9 471.7,374.9 474.1 C374.9 476.5,374.8 479.0,374.6 481.3 C374.4 483.5,374.1 485.7,373.7 487.6 C373.4 489.4,372.9 491.0,372.4 492.2 C371.9 493.4,371.1 494.3,370.8 494.7" stroke-width="1.1"/>
<path d="M372.2 453.5 C372.5 453.9,373.3 454.8,373.8 456.0 C374.3 457.2,374.8 458.8,375.1 460.6 C375.5 462.5,375.8 464.7,376.0 466.9 C376.2 469.2,376.3 471.7,376.3 474.1 C376.3 476.5,376.2 479.0,376.0 481.3 C375.8 483.5,375.5 485.7,375.1 487.6 C374.8 489.4,374.3 491.0,373.8 492.2 C373.3 493.4,372.5 494.3,372.2 494.7" stroke-width="1.1"/>
<path d="M373.6 453.5 C373.9 453.9,374.7 454.8,375.2 456.0 C375.7 457.2,376.2 458.8,376.5 460.6 C376.9 462.5,377.2 464.7,377.4 466.9 C377.6 469.2,377.7 471.7,377.7 474.1 C377.7 476.5,377.6 479.0,377.4 481.3 C377.2 483.5,376.9 485.7,376.5 487.6 C376.2 489.4,375.7 491.0,375.2 492.2 C374.7 493.4,373.9 494.3,373.6 494.7" stroke-width="1.1"/>
<path d="M375.0 453.5 C375.3 453.9,376.1 454.8,376.6 456.0 C377.1 457.2,377.5 458.8,377.9 460.6 C378.3 462.5,378.6 464.7,378.8 466.9 C378.9 469.2,379.1 471.7,379.1 474.1 C379.1 476.5,378.9 479.0,378.8 481.3 C378.6 483.5,378.3 485.7,377.9 487.6 C377.5 489.4,377.1 491.0,376.6 492.2 C376.1 493.4,375.3 494.3,375.0 494.7" stroke-width="1.1"/>
<path d="M376.4 453.5 C376.6 453.9,377.5 454.8,378.0 456.0 C378.5 457.2,378.9 458.8,379.3 460.6 C379.6 462.5,380.0 464.7,380.1 466.9 C380.3 469.2,380.4 471.7,380.4 474.1 C380.4 476.5,380.3 479.0,380.1 481.3 C380.0 483.5,379.6 485.7,379.3 487.6 C378.9 489.4,378.5 491.0,378.0 492.2 C377.5 493.4,376.6 494.3,376.4 494.7" stroke-width="1.1"/>
<path d="M370.0 453.8 L376.9 453.3" stroke-width="0.8"/>
<path d="M370.6 455.5 L376.9 455.0" stroke-width="0.8"/>
<path d="M370.0 457.2 L376.9 456.7" stroke-width="0.8"/>
<path d="M370.6 458.9 L376.9 458.4" stroke-width="0.8"/>
<path d="M370.0 460.6 L376.9 460.1" stroke-width="0.8"/>
<path d="M370.6 462.3 L376.9 461.8" stroke-width="0.8"/>
<path d="M370.0 464.1 L376.9 463.5" stroke-width="0.8"/>
<path d="M370.6 465.8 L376.9 465.2" stroke-width="0.8"/>
<path d="M370.0 467.5 L376.9 466.9" stroke-width="0.8"/>
<path d="M370.6 469.2 L376.9 468.6" stroke-width="0.8"/>
<path d="M370.0 470.9 L376.9 470.4" stroke-width="0.8"/>
<path d="M370.6 472.6 L376.9 472.1" stroke-width="0.8"/>
<path d="M370.0 474.3 L376.9 473.8" stroke-width="0.8"/>
<path d="M370.6 476.0 L376.9 475.5" stroke-width="0.8"/>
<path d="M370.0 477.7 L376.9 477.2" stroke-width="0.8"/>
<path d="M370.6 479.4 L376.9 478.9" stroke-width="0.8"/>
<path d="M370.0 481.1 L376.9 480.6" stroke-width="0.8"/>
<path d="M370.6 482.9 L376.9 482.3" stroke-width="0.8"/>
<path d="M370.0 484.6 L376.9 484.0" stroke-width="0.8"/>
<path d="M370.6 486.3 L376.9 485.7" stroke-width="0.8"/>
<path d="M370.0 488.0 L376.9 487.4" stroke-width="0.8"/>
<path d="M370.6 489.7 L376.9 489.2" stroke-width="0.8"/>
<path d="M370.0 491.4 L376.9 490.9" stroke-width="0.8"/>
<path d="M370.6 493.1 L376.9 492.6" stroke-width="0.8"/>
<path d="M374.8 447.4 C374.4 449.2,373.1 453.6,372.6 458.1 C372.2 462.5,372.2 468.8,372.2 474.1 C372.2 479.4,372.4 485.6,372.9 490.1 C373.3 494.6,374.5 499.2,374.8 501.0" stroke-width="1.3"/>
<path d="M378.5 447.6 C378.8 449.3,379.9 453.7,380.3 458.1 C380.7 462.5,380.9 468.8,380.9 474.1 C380.8 479.4,380.5 485.7,380.1 490.1 C379.7 494.6,378.8 499.0,378.5 500.8" stroke-width="1.2"/>
<path d="M374.2 447.4 L470.9 447.6" stroke-width="1.4"/>
<path d="M374.2 501.0 L470.9 501.3" stroke-width="1.4"/>
<path d="M382.5 448.0 C382.5 449.3,382.4 451.1,382.3 455.5 C382.1 459.9,381.8 466.8,381.6 474.4 C381.4 481.9,381.1 496.3,381.0 500.7" stroke-width="1.15"/>
<path d="M384.5 448.0 C384.5 449.3,384.4 451.1,384.3 455.5 C384.1 459.9,383.9 466.8,383.6 474.4 C383.4 481.9,383.1 496.3,383.0 500.7" stroke-width="1.15"/>
<path d="M386.6 448.0 C386.5 449.3,386.5 451.1,386.3 455.5 C386.2 459.9,385.9 466.8,385.7 474.4 C385.5 481.9,385.1 496.3,385.0 500.7" stroke-width="1.15"/>
<path d="M388.6 448.0 C388.6 449.3,388.5 451.1,388.3 455.5 C388.2 459.9,387.9 466.8,387.7 474.4 C387.5 481.9,387.2 496.3,387.1 500.7" stroke-width="1.15"/>
<path d="M390.6 448.0 C390.6 449.3,390.5 451.1,390.4 455.5 C390.2 459.9,389.9 466.8,389.7 474.4 C389.5 481.9,389.2 496.3,389.1 500.7" stroke-width="1.15"/>
<path d="M392.7 448.0 C392.6 449.3,392.6 451.1,392.4 455.5 C392.3 459.9,392.0 466.8,391.8 474.4 C391.5 481.9,391.2 496.3,391.1 500.7" stroke-width="1.15"/>
<path d="M394.7 448.0 C394.6 449.3,394.6 451.1,394.4 455.5 C394.3 459.9,394.0 466.8,393.8 474.4 C393.6 481.9,393.3 496.3,393.2 500.7" stroke-width="1.15"/>
<path d="M396.7 448.0 C396.7 449.3,396.6 451.1,396.5 455.5 C396.3 459.9,396.0 466.8,395.8 474.4 C395.6 481.9,395.3 496.3,395.2 500.7" stroke-width="1.15"/>
<path d="M398.7 448.0 C398.7 449.3,398.6 451.1,398.5 455.5 C398.3 459.9,398.1 466.8,397.9 474.4 C397.6 481.9,397.3 496.3,397.2 500.7" stroke-width="1.15"/>
<path d="M400.8 448.0 C400.7 449.3,400.7 451.1,400.5 455.5 C400.4 459.9,400.1 466.8,399.9 474.4 C399.7 481.9,399.3 496.3,399.2 500.7" stroke-width="1.15"/>
<path d="M402.8 448.0 C402.8 449.3,402.7 451.1,402.6 455.5 C402.4 459.9,402.1 466.8,401.9 474.4 C401.7 481.9,401.4 496.3,401.3 500.7" stroke-width="1.15"/>
<path d="M404.8 448.0 C404.8 449.3,404.7 451.1,404.6 455.5 C404.4 459.9,404.2 466.8,403.9 474.4 C403.7 481.9,403.4 496.3,403.3 500.7" stroke-width="1.15"/>
<path d="M406.9 448.0 C406.8 449.3,406.8 451.1,406.6 455.5 C406.5 459.9,406.2 466.8,406.0 474.4 C405.8 481.9,405.4 496.3,405.3 500.7" stroke-width="1.15"/>
<path d="M408.9 448.0 C408.9 449.3,408.8 451.1,408.6 455.5 C408.5 459.9,408.2 466.8,408.0 474.4 C407.8 481.9,407.5 496.3,407.4 500.7" stroke-width="1.15"/>
<path d="M410.9 448.0 C410.9 449.3,410.8 451.1,410.7 455.5 C410.5 459.9,410.2 466.8,410.0 474.4 C409.8 481.9,409.5 496.3,409.4 500.7" stroke-width="1.15"/>
<path d="M413.0 448.0 C412.9 449.3,412.8 451.1,412.7 455.5 C412.6 459.9,412.3 466.8,412.1 474.4 C411.8 481.9,411.5 496.3,411.4 500.7" stroke-width="1.15"/>
<path d="M415.0 448.0 C414.9 449.3,414.9 451.1,414.7 455.5 C414.6 459.9,414.3 466.8,414.1 474.4 C413.9 481.9,413.6 496.3,413.4 500.7" stroke-width="1.15"/>
<path d="M417.0 448.0 C417.0 449.3,416.9 451.1,416.8 455.5 C416.6 459.9,416.3 466.8,416.1 474.4 C415.9 481.9,415.6 496.3,415.5 500.7" stroke-width="1.15"/>
<path d="M419.0 448.0 C419.0 449.3,418.9 451.1,418.8 455.5 C418.6 459.9,418.4 466.8,418.1 474.4 C417.9 481.9,417.6 496.3,417.5 500.7" stroke-width="1.15"/>
<path d="M421.1 448.0 C421.0 449.3,421.0 451.1,420.8 455.5 C420.7 459.9,420.4 466.8,420.2 474.4 C420.0 481.9,419.6 496.3,419.5 500.7" stroke-width="1.15"/>
<path d="M423.1 448.0 C423.1 449.3,423.0 451.1,422.8 455.5 C422.7 459.9,422.4 466.8,422.2 474.4 C422.0 481.9,421.7 496.3,421.6 500.7" stroke-width="1.15"/>
<path d="M425.1 448.0 C425.1 449.3,425.0 451.1,424.9 455.5 C424.7 459.9,424.5 466.8,424.2 474.4 C424.0 481.9,423.7 496.3,423.6 500.7" stroke-width="1.15"/>
<path d="M427.2 448.0 C427.1 449.3,427.1 451.1,426.9 455.5 C426.8 459.9,426.5 466.8,426.3 474.4 C426.1 481.9,425.7 496.3,425.6 500.7" stroke-width="1.15"/>
<path d="M429.2 448.0 C429.2 449.3,429.1 451.1,428.9 455.5 C428.8 459.9,428.5 466.8,428.3 474.4 C428.1 481.9,427.8 496.3,427.7 500.7" stroke-width="1.15"/>
<path d="M431.2 448.0 C431.2 449.3,431.1 451.1,431.0 455.5 C430.8 459.9,430.5 466.8,430.3 474.4 C430.1 481.9,429.8 496.3,429.7 500.7" stroke-width="1.15"/>
<path d="M433.3 448.0 C433.2 449.3,433.1 451.1,433.0 455.5 C432.8 459.9,432.6 466.8,432.4 474.4 C432.1 481.9,431.8 496.3,431.7 500.7" stroke-width="1.15"/>
<path d="M435.3 448.0 C435.2 449.3,435.2 451.1,435.0 455.5 C434.9 459.9,434.6 466.8,434.4 474.4 C434.2 481.9,433.9 496.3,433.7 500.7" stroke-width="1.15"/>
<path d="M437.3 448.0 C437.3 449.3,437.2 451.1,437.1 455.5 C436.9 459.9,436.6 466.8,436.4 474.4 C436.2 481.9,435.9 496.3,435.8 500.7" stroke-width="1.15"/>
<path d="M439.3 448.0 C439.3 449.3,439.2 451.1,439.1 455.5 C438.9 459.9,438.7 466.8,438.4 474.4 C438.2 481.9,437.9 496.3,437.8 500.7" stroke-width="1.15"/>
<path d="M441.4 448.0 C441.3 449.3,441.3 451.1,441.1 455.5 C441.0 459.9,440.7 466.8,440.5 474.4 C440.3 481.9,439.9 496.3,439.8 500.7" stroke-width="1.15"/>
<path d="M443.4 448.0 C443.4 449.3,443.3 451.1,443.1 455.5 C443.0 459.9,442.7 466.8,442.5 474.4 C442.3 481.9,442.0 496.3,441.9 500.7" stroke-width="1.15"/>
<path d="M445.4 448.0 C445.4 449.3,445.3 451.1,445.2 455.5 C445.0 459.9,444.7 466.8,444.5 474.4 C444.3 481.9,444.0 496.3,443.9 500.7" stroke-width="1.15"/>
<path d="M447.5 448.0 C447.4 449.3,447.4 451.1,447.2 455.5 C447.1 459.9,446.8 466.8,446.6 474.4 C446.4 481.9,446.0 496.3,445.9 500.7" stroke-width="1.15"/>
<path d="M449.5 448.0 C449.4 449.3,449.4 451.1,449.2 455.5 C449.1 459.9,448.8 466.8,448.6 474.4 C448.4 481.9,448.1 496.3,448.0 500.7" stroke-width="1.15"/>
<path d="M451.5 448.0 C451.5 449.3,451.4 451.1,451.3 455.5 C451.1 459.9,450.8 466.8,450.6 474.4 C450.4 481.9,450.1 496.3,450.0 500.7" stroke-width="1.15"/>
<path d="M453.6 448.0 C453.5 449.3,453.4 451.1,453.3 455.5 C453.1 459.9,452.9 466.8,452.7 474.4 C452.4 481.9,452.1 496.3,452.0 500.7" stroke-width="1.15"/>
<path d="M455.6 448.0 C455.5 449.3,455.5 451.1,455.3 455.5 C455.2 459.9,454.9 466.8,454.7 474.4 C454.5 481.9,454.1 496.3,454.0 500.7" stroke-width="1.15"/>
<path d="M457.6 448.0 C457.6 449.3,457.5 451.1,457.4 455.5 C457.2 459.9,456.9 466.8,456.7 474.4 C456.5 481.9,456.2 496.3,456.1 500.7" stroke-width="1.15"/>
<path d="M459.6 448.0 C459.6 449.3,459.5 451.1,459.4 455.5 C459.2 459.9,459.0 466.8,458.7 474.4 C458.5 481.9,458.2 496.3,458.1 500.7" stroke-width="1.15"/>
<path d="M461.7 448.0 C461.6 449.3,461.6 451.1,461.4 455.5 C461.3 459.9,461.0 466.8,460.8 474.4 C460.6 481.9,460.2 496.3,460.1 500.7" stroke-width="1.15"/>
<path d="M463.7 448.0 C463.7 449.3,463.6 451.1,463.4 455.5 C463.3 459.9,463.0 466.8,462.8 474.4 C462.6 481.9,462.3 496.3,462.2 500.7" stroke-width="1.15"/>
<path d="M465.7 448.0 C465.7 449.3,465.6 451.1,465.5 455.5 C465.3 459.9,465.0 466.8,464.8 474.4 C464.6 481.9,464.3 496.3,464.2 500.7" stroke-width="1.15"/>
<path d="M467.8 448.0 C467.7 449.3,467.7 451.1,467.5 455.5 C467.4 459.9,467.1 466.8,466.9 474.4 C466.6 481.9,466.3 496.3,466.2 500.7" stroke-width="1.15"/>
<path d="M469.8 448.0 C469.7 449.3,469.7 451.1,469.5 455.5 C469.4 459.9,469.1 466.8,468.9 474.4 C468.7 481.9,468.4 496.3,468.2 500.7" stroke-width="1.15"/>
<path d="M469.3 447.4 C469.8 447.3,471.1 446.5,472.0 446.9 C472.9 447.2,473.9 446.8,474.7 449.5 C475.4 452.3,476.1 459.0,476.5 463.4 C476.8 467.9,476.9 471.2,476.8 476.2 C476.7 481.2,476.4 488.9,475.7 493.3 C475.1 497.8,474.0 501.2,473.1 502.9 C472.1 504.7,470.7 504.1,469.9 503.8 C469.1 503.4,468.5 501.3,468.2 500.8" stroke-width="1.3"/>
<path d="M469.3 448.5 C469.7 450.6,471.0 456.6,471.5 461.3 C471.9 465.9,471.9 471.1,471.8 476.2 C471.7 481.4,471.4 488.2,470.9 492.3 C470.4 496.4,469.1 499.4,468.8 500.8" stroke-width="1.4"/>
<path d="M472.2 452.2 L474.7 451.3 L475.0 453.5" stroke-width="1.0"/>
<path d="M472.2 462.9 L474.7 462.0 L475.0 464.2" stroke-width="1.0"/>
<path d="M472.2 475.2 L474.7 474.3 L475.0 476.4" stroke-width="1.0"/>
<path d="M472.2 489.1 L474.7 488.2 L475.0 490.3" stroke-width="1.0"/>
<path d="M472.2 498.7 L474.7 497.8 L475.0 499.9" stroke-width="1.0"/>
<path d="M476.5 466.3 L571.3 466.3" stroke="#777" stroke-width="0.9"/>
<path d="M476.5 484.2 L564.7 484.2" stroke="#444" stroke-width="0.9"/>
<path d="M571.1 466.8 L563.6 484.0"/>
<path d="M574.9 484.0 C575.1 482.9,574.9 480.6,576.1 477.7 C577.3 474.9,581.1 468.6,582.0 466.8"/>
<path d="M582.0 466.8 L648.2 467.4" stroke="#777" stroke-width="0.9"/>
<path d="M574.9 484.0 L648.2 484.3" stroke="#444" stroke-width="0.9"/>
<path d="M648.2 467.4 C648.6 468.0,650.1 469.8,650.6 471.2 C651.0 472.7,650.9 474.4,650.9 476.0 C650.8 477.5,650.7 479.3,650.3 480.7 C649.9 482.1,648.6 483.7,648.2 484.3"/>
<ellipse cx="675.8" cy="475.9" rx="3.2" ry="13.9" stroke-width="1.2"/>
<ellipse cx="676.1" cy="475.9" rx="1.9" ry="12.0"/>
<path d="M675.8 462.0 L695.5 462.0"/>
<path d="M675.8 489.6 L694.7 489.6"/>
<path d="M789.6 454.4 L697.7 454.4 L694.5 459.9 L693.9 492.0 L697.7 498.4 L789.6 498.4" stroke-width="1.5"/>
<path d="M698.2 454.8 C698.8 456.5,700.8 461.7,701.4 465.3 C702.0 468.8,702.0 472.2,702.0 475.9 C701.9 479.7,701.7 484.0,701.1 487.7 C700.5 491.4,699.0 496.2,698.5 497.9"/>
<path d="M702.5 454.8 L703.0 497.9" stroke-width="1.2"/>
<path d="M708.4 454.8 L708.9 497.9" stroke-width="1.3"/>
<path d="M702.2 457.2 L710.5 457.2" stroke-width="1.3"/>
<path d="M702.2 461.0 L710.5 461.0" stroke-width="1.3"/>
<path d="M702.2 470.6 L710.5 470.6" stroke-width="1.3"/>
<path d="M702.2 479.7 L710.5 479.7" stroke-width="1.3"/>
<path d="M702.2 488.8 L710.5 488.8" stroke-width="1.3"/>
<path d="M702.2 494.1 L710.5 494.1" stroke-width="1.3"/>
<path d="M702.2 496.4 L710.5 496.4" stroke-width="1.3"/>
<path d="M710.2 455.0 C710.2 456.0,710.1 457.4,710.0 461.0 C709.8 464.5,709.5 470.2,709.3 476.4 C709.1 482.5,708.8 494.2,708.7 497.7" stroke-width="1.5"/>
<path d="M712.3 455.0 C712.3 456.0,712.2 457.4,712.1 461.0 C711.9 464.5,711.6 470.2,711.4 476.4 C711.2 482.5,710.9 494.2,710.8 497.7" stroke-width="1.5"/>
<path d="M714.4 455.0 C714.4 456.0,714.3 457.4,714.1 461.0 C714.0 464.5,713.7 470.2,713.5 476.4 C713.3 482.5,713.0 494.2,712.9 497.7" stroke-width="1.5"/>
<path d="M716.5 455.0 C716.4 456.0,716.4 457.4,716.2 461.0 C716.1 464.5,715.8 470.2,715.6 476.4 C715.4 482.5,715.0 494.2,714.9 497.7" stroke-width="1.5"/>
<path d="M718.6 455.0 C718.5 456.0,718.5 457.4,718.3 461.0 C718.2 464.5,717.9 470.2,717.7 476.4 C717.4 482.5,717.1 494.2,717.0 497.7" stroke-width="1.5"/>
<path d="M720.6 455.0 C720.6 456.0,720.5 457.4,720.4 461.0 C720.2 464.5,720.0 470.2,719.7 476.4 C719.5 482.5,719.2 494.2,719.1 497.7" stroke-width="1.5"/>
<path d="M722.7 455.0 C722.7 456.0,722.6 457.4,722.5 461.0 C722.3 464.5,722.0 470.2,721.8 476.4 C721.6 482.5,721.3 494.2,721.2 497.7" stroke-width="1.5"/>
<path d="M724.8 455.0 C724.8 456.0,724.7 457.4,724.6 461.0 C724.4 464.5,724.1 470.2,723.9 476.4 C723.7 482.5,723.4 494.2,723.3 497.7" stroke-width="1.5"/>
<path d="M726.9 455.0 C726.8 456.0,726.8 457.4,726.6 461.0 C726.5 464.5,726.2 470.2,726.0 476.4 C725.8 482.5,725.5 494.2,725.4 497.7" stroke-width="1.5"/>
<path d="M729.0 455.0 C728.9 456.0,728.9 457.4,728.7 461.0 C728.6 464.5,728.3 470.2,728.1 476.4 C727.9 482.5,727.5 494.2,727.4 497.7" stroke-width="1.5"/>
<path d="M731.1 455.0 C731.0 456.0,731.0 457.4,730.8 461.0 C730.7 464.5,730.4 470.2,730.2 476.4 C729.9 482.5,729.6 494.2,729.5 497.7" stroke-width="1.5"/>
<path d="M733.1 455.0 C733.1 456.0,733.0 457.4,732.9 461.0 C732.7 464.5,732.5 470.2,732.2 476.4 C732.0 482.5,731.7 494.2,731.6 497.7" stroke-width="1.5"/>
<path d="M735.2 455.0 C735.2 456.0,735.1 457.4,735.0 461.0 C734.8 464.5,734.5 470.2,734.3 476.4 C734.1 482.5,733.8 494.2,733.7 497.7" stroke-width="1.5"/>
<path d="M737.3 455.0 C737.3 456.0,737.2 457.4,737.1 461.0 C736.9 464.5,736.6 470.2,736.4 476.4 C736.2 482.5,735.9 494.2,735.8 497.7" stroke-width="1.5"/>
<path d="M739.4 455.0 C739.3 456.0,739.3 457.4,739.1 461.0 C739.0 464.5,738.7 470.2,738.5 476.4 C738.3 482.5,738.0 494.2,737.9 497.7" stroke-width="1.5"/>
<path d="M741.5 455.0 C741.4 456.0,741.4 457.4,741.2 461.0 C741.1 464.5,740.8 470.2,740.6 476.4 C740.4 482.5,740.0 494.2,739.9 497.7" stroke-width="1.5"/>
<path d="M743.6 455.0 C743.5 456.0,743.4 457.4,743.3 461.0 C743.2 464.5,742.9 470.2,742.7 476.4 C742.4 482.5,742.1 494.2,742.0 497.7" stroke-width="1.5"/>
<path d="M745.6 455.0 C745.6 456.0,745.5 457.4,745.4 461.0 C745.2 464.5,745.0 470.2,744.7 476.4 C744.5 482.5,744.2 494.2,744.1 497.7" stroke-width="1.5"/>
<path d="M747.7 455.0 C747.7 456.0,747.6 457.4,747.5 461.0 C747.3 464.5,747.0 470.2,746.8 476.4 C746.6 482.5,746.3 494.2,746.2 497.7" stroke-width="1.5"/>
<path d="M749.8 455.0 C749.8 456.0,749.7 457.4,749.5 461.0 C749.4 464.5,749.1 470.2,748.9 476.4 C748.7 482.5,748.4 494.2,748.3 497.7" stroke-width="1.5"/>
<path d="M751.9 455.0 C751.8 456.0,751.8 457.4,751.6 461.0 C751.5 464.5,751.2 470.2,751.0 476.4 C750.8 482.5,750.5 494.2,750.4 497.7" stroke-width="1.5"/>
<path d="M754.0 455.0 C753.9 456.0,753.9 457.4,753.7 461.0 C753.6 464.5,753.3 470.2,753.1 476.4 C752.9 482.5,752.5 494.2,752.4 497.7" stroke-width="1.5"/>
<path d="M756.1 455.0 C756.0 456.0,755.9 457.4,755.8 461.0 C755.6 464.5,755.4 470.2,755.2 476.4 C754.9 482.5,754.6 494.2,754.5 497.7" stroke-width="1.5"/>
<path d="M758.1 455.0 C758.1 456.0,758.0 457.4,757.9 461.0 C757.7 464.5,757.5 470.2,757.2 476.4 C757.0 482.5,756.7 494.2,756.6 497.7" stroke-width="1.5"/>
<path d="M760.2 455.0 C760.2 456.0,760.1 457.4,760.0 461.0 C759.8 464.5,759.5 470.2,759.3 476.4 C759.1 482.5,758.8 494.2,758.7 497.7" stroke-width="1.5"/>
<path d="M762.3 455.0 C762.3 456.0,762.2 457.4,762.0 461.0 C761.9 464.5,761.6 470.2,761.4 476.4 C761.2 482.5,760.9 494.2,760.8 497.7" stroke-width="1.5"/>
<path d="M764.4 455.0 C764.3 456.0,764.3 457.4,764.1 461.0 C764.0 464.5,763.7 470.2,763.5 476.4 C763.3 482.5,763.0 494.2,762.8 497.7" stroke-width="1.5"/>
<path d="M766.5 455.0 C766.4 456.0,766.4 457.4,766.2 461.0 C766.1 464.5,765.8 470.2,765.6 476.4 C765.4 482.5,765.0 494.2,764.9 497.7" stroke-width="1.5"/>
<path d="M768.6 455.0 C768.5 456.0,768.4 457.4,768.3 461.0 C768.1 464.5,767.9 470.2,767.7 476.4 C767.4 482.5,767.1 494.2,767.0 497.7" stroke-width="1.5"/>
<path d="M770.6 455.0 C770.6 456.0,770.5 457.4,770.4 461.0 C770.2 464.5,770.0 470.2,769.7 476.4 C769.5 482.5,769.2 494.2,769.1 497.7" stroke-width="1.5"/>
<path d="M772.7 455.0 C772.7 456.0,772.6 457.4,772.5 461.0 C772.3 464.5,772.0 470.2,771.8 476.4 C771.6 482.5,771.3 494.2,771.2 497.7" stroke-width="1.5"/>
<path d="M774.8 455.0 C774.8 456.0,774.7 457.4,774.5 461.0 C774.4 464.5,774.1 470.2,773.9 476.4 C773.7 482.5,773.4 494.2,773.3 497.7" stroke-width="1.5"/>
<path d="M776.9 455.0 C776.8 456.0,776.8 457.4,776.6 461.0 C776.5 464.5,776.2 470.2,776.0 476.4 C775.8 482.5,775.5 494.2,775.3 497.7" stroke-width="1.5"/>
<path d="M779.0 455.0 C778.9 456.0,778.9 457.4,778.7 461.0 C778.6 464.5,778.3 470.2,778.1 476.4 C777.9 482.5,777.5 494.2,777.4 497.7" stroke-width="1.5"/>
<path d="M781.1 455.0 C781.0 456.0,780.9 457.4,780.8 461.0 C780.6 464.5,780.4 470.2,780.2 476.4 C779.9 482.5,779.6 494.2,779.5 497.7" stroke-width="1.5"/>
<path d="M783.1 455.0 C783.1 456.0,783.0 457.4,782.9 461.0 C782.7 464.5,782.5 470.2,782.2 476.4 C782.0 482.5,781.7 494.2,781.6 497.7" stroke-width="1.5"/>
<path d="M785.2 455.0 C785.2 456.0,785.1 457.4,785.0 461.0 C784.8 464.5,784.5 470.2,784.3 476.4 C784.1 482.5,783.8 494.2,783.7 497.7" stroke-width="1.5"/>
<path d="M787.3 455.0 C787.3 456.0,787.2 457.4,787.0 461.0 C786.9 464.5,786.6 470.2,786.4 476.4 C786.2 482.5,785.9 494.2,785.8 497.7" stroke-width="1.5"/>
<path d="M788.0 453.7 C788.4 453.6,789.7 452.5,790.6 453.0 C791.5 453.5,792.5 454.5,793.3 456.7 C794.0 458.9,794.7 462.9,795.1 466.3 C795.5 469.7,795.6 473.4,795.5 477.0 C795.5 480.6,795.4 484.3,794.9 487.7 C794.4 491.1,793.6 495.3,792.8 497.3 C792.0 499.3,790.9 499.4,790.1 499.6 C789.3 499.9,788.3 499.0,788.0 498.9" stroke-width="1.5"/>
<path d="M789.0 455.1 C789.4 456.8,791.0 461.6,791.5 465.3 C792.0 468.9,791.9 473.3,791.9 477.0 C791.9 480.7,791.7 484.1,791.3 487.7 C790.8 491.2,789.4 496.6,789.0 498.4" stroke-width="1.2"/>
<path d="M791.7 465.3 L794.4 465.3" stroke-width="1.2"/>
<path d="M791.7 476.1 L794.4 476.1" stroke-width="1.2"/>
<path d="M791.7 488.2 L794.4 488.2" stroke-width="1.2"/>
<ellipse cx="140.9" cy="499.5" rx="3.0" ry="2.7" stroke-width="0.6"/>
<path d="M138.5 498.2 L143.5 498.2" stroke-width="0.7"/>
<path d="M138.5 499.6 L143.5 499.6" stroke-width="0.7"/>
<path d="M138.5 501.0 L143.5 501.0" stroke-width="0.7"/>
<ellipse cx="141.3" cy="522.1" rx="5.7" ry="4.0" transform="rotate(-5 141.3 522.1)" stroke="#2c3a48" stroke-width="0.9"/>
<ellipse cx="141.3" cy="522.1" rx="3.7" ry="2.4" transform="rotate(-5 141.3 522.1)" stroke="#2c3a48" stroke-width="0.9"/>
<ellipse cx="141.3" cy="522.1" rx="4.8" ry="3.2" transform="rotate(-5 141.3 522.1)" stroke="#2c3a48" stroke-width="0.5"/>
<path d="M176.8 536.2 L168.8 547.3 L128.6 545.4 L125.0 555.7" stroke-dasharray="2.2 2.6" stroke-width="1.0"/>
<ellipse cx="120.3" cy="569.5" rx="13.4" ry="9.4" transform="rotate(6 120.3 569.5)" stroke-width="2.1" stroke="#151515"/>
<ellipse cx="169.8" cy="624.7" rx="2.9" ry="14.3"/>
<ellipse cx="171.7" cy="624.7" rx="2.9" ry="14.3"/>
<ellipse cx="170.8" cy="624.7" rx="1.8" ry="12.6" stroke-width="0.7"/>
<path d="M91.0 592.0 C91.3 591.1,91.4 588.4,92.7 586.9 C93.9 585.5,96.0 584.1,98.5 583.2 C101.0 582.2,104.9 581.6,107.8 581.2 C110.6 580.9,112.8 580.8,115.7 580.9 C118.7 581.0,122.4 581.2,125.4 581.7 C128.4 582.3,131.4 583.3,133.8 584.4 C136.1 585.6,138.4 587.4,139.6 588.6 C140.8 589.9,140.7 591.4,140.9 592.0" stroke="#1c2833" stroke-width="1.2"/>
<path d="M91.0 592.0 C90.9 593.1,90.4 596.9,90.6 598.7 C90.7 600.5,90.8 601.7,92.0 602.9 C93.2 604.1,95.5 605.0,97.7 605.8 C99.9 606.7,102.2 607.4,105.2 607.9 C108.2 608.4,112.1 608.9,115.7 608.9 C119.4 609.0,123.9 608.6,127.0 608.1 C130.2 607.6,132.5 606.8,134.6 605.8 C136.7 604.8,138.6 604.4,139.6 602.0 C140.7 599.7,140.7 593.7,140.9 592.0" stroke="#1c2833" stroke-width="1.3"/>
<path d="M92.0 593.2 C92.9 593.9,95.5 596.0,97.7 597.0 C99.9 598.0,102.2 598.6,105.2 599.1 C108.2 599.6,112.1 599.9,115.7 599.9 C119.4 599.9,123.9 599.7,127.0 599.1 C130.2 598.6,132.4 597.6,134.6 596.6 C136.8 595.5,139.1 593.4,140.1 592.8" stroke="#1c2833" stroke-width="1.2"/>
<path d="M95.2 595.3 L93.9 603.7" stroke="#1c2833" stroke-width="1.2"/>
<path d="M101.0 598.0 L100.2 606.2" stroke="#1c2833" stroke-width="1.2"/>
<path d="M103.6 598.7 L102.9 606.9" stroke="#1c2833" stroke-width="1.2"/>
<path d="M109.4 599.7 L109.0 608.1" stroke="#1c2833" stroke-width="1.2"/>
<path d="M113.6 599.9 L113.5 608.6" stroke="#1c2833" stroke-width="1.2"/>
<path d="M122.9 599.5 L122.7 608.3" stroke="#1c2833" stroke-width="1.2"/>
<path d="M127.9 598.7 L127.7 607.9" stroke="#1c2833" stroke-width="1.2"/>
<path d="M132.9 597.0 L133.1 606.2" stroke="#1c2833" stroke-width="1.2"/>
<path d="M135.0 596.2 L135.4 605.4" stroke="#1c2833" stroke-width="1.2"/>
<path d="M138.8 594.1 L139.0 602.9" stroke="#1c2833" stroke-width="1.2"/>
<ellipse cx="115.7" cy="590.1" rx="21.1" ry="8.4" stroke="#1c2833" stroke-width="0.85"/>
<ellipse cx="115.7" cy="590.7" rx="19.9" ry="7.6" stroke="#1c2833" stroke-width="0.85"/>
<ellipse cx="115.7" cy="591.3" rx="18.6" ry="6.9" stroke="#1c2833" stroke-width="0.85"/>
<ellipse cx="115.7" cy="591.9" rx="17.4" ry="6.1" stroke="#1c2833" stroke-width="0.85"/>
<ellipse cx="115.7" cy="592.5" rx="16.1" ry="5.4" stroke="#1c2833" stroke-width="0.85"/>
<ellipse cx="115.7" cy="593.1" rx="14.8" ry="4.6" stroke="#1c2833" stroke-width="0.85"/>
<ellipse cx="115.7" cy="593.7" rx="13.6" ry="3.9" stroke="#1c2833" stroke-width="0.85"/>
<ellipse cx="115.7" cy="594.2" rx="12.3" ry="3.1" stroke="#1c2833" stroke-width="0.85"/>
<ellipse cx="115.7" cy="594.8" rx="11.1" ry="2.3" stroke="#1c2833" stroke-width="0.85"/>
<path d="M98.8 585.7 C99.3 585.5,100.6 584.7,101.9 584.2 C103.2 583.8,104.9 583.4,106.7 583.2 C108.5 582.9,110.6 582.7,112.6 582.6 C114.6 582.5,116.8 582.5,118.9 582.6 C120.9 582.7,123.0 582.9,124.7 583.2 C126.5 583.4,128.2 583.8,129.5 584.2 C130.9 584.7,132.1 585.5,132.7 585.7" stroke="#1c2833" stroke-width="0.8"/>
<path d="M99.6 587.0 C100.1 586.8,101.3 586.0,102.5 585.6 C103.8 585.2,105.4 584.8,107.1 584.5 C108.8 584.2,110.8 584.0,112.7 583.9 C114.7 583.8,116.8 583.8,118.7 583.9 C120.6 584.0,122.6 584.2,124.3 584.5 C126.0 584.8,127.6 585.2,128.9 585.6 C130.2 586.0,131.4 586.8,131.9 587.0" stroke="#1c2833" stroke-width="0.8"/>
<path d="M100.3 588.4 C100.8 588.1,102.0 587.3,103.2 586.9 C104.4 586.5,105.9 586.1,107.5 585.8 C109.2 585.6,111.0 585.4,112.9 585.3 C114.7 585.2,116.7 585.2,118.6 585.3 C120.4 585.4,122.3 585.6,123.9 585.8 C125.5 586.1,127.1 586.5,128.3 586.9 C129.5 587.3,130.6 588.1,131.1 588.4" stroke="#1c2833" stroke-width="0.8"/>
<path d="M101.1 589.7 C101.6 589.5,102.7 588.7,103.8 588.3 C105.0 587.8,106.4 587.5,108.0 587.2 C109.5 586.9,111.3 586.7,113.0 586.6 C114.8 586.5,116.7 586.5,118.4 586.6 C120.2 586.7,121.9 586.9,123.5 587.2 C125.0 587.5,126.5 587.8,127.6 588.3 C128.7 588.7,129.9 589.5,130.3 589.7" stroke="#1c2833" stroke-width="0.8"/>
<path d="M101.9 591.1 C102.4 590.8,103.4 590.0,104.5 589.6 C105.6 589.2,106.9 588.8,108.4 588.5 C109.8 588.2,111.5 588.0,113.2 587.9 C114.8 587.8,116.6 587.8,118.3 587.9 C119.9 588.0,121.6 588.2,123.1 588.5 C124.5 588.8,125.9 589.2,127.0 589.6 C128.0 590.0,129.1 590.8,129.5 591.1" stroke="#1c2833" stroke-width="0.8"/>
<path d="M105.2 595.3 C107.0 595.7,112.2 597.5,115.7 597.4 C119.2 597.4,124.5 595.5,126.2 595.2" stroke="#1c2833" stroke-width="0.8"/>
<ellipse cx="115.7" cy="590.7" rx="22.0" ry="9.4" stroke="#1c2833" stroke-width="1.1"/>
<path d="M96.4 604.7 C96.3 606.7,95.2 613.0,95.8 616.3 C96.5 619.6,97.8 622.0,100.2 624.7 C102.6 627.4,106.6 630.4,110.3 632.2 C113.9 634.1,118.4 635.3,122.0 636.0 C125.7 636.7,130.5 636.4,132.2 636.4" stroke="#1c2833" stroke-width="1.2"/>
<path d="M128.7 608.3 C128.7 609.0,127.9 611.3,128.6 612.1 C129.2 613.0,131.8 613.2,132.5 613.4" stroke="#1c2833"/>
<ellipse cx="132.5" cy="625.1" rx="2.1" ry="12.6" stroke="#1c2833"/>
<path d="M135.0 611.7 C134.7 612.9,133.6 615.5,133.3 618.8 C133.1 622.1,133.0 628.2,133.3 631.4 C133.7 634.7,134.9 637.1,135.3 638.3" stroke="#1c2833"/>
<path d="M134.6 611.3 L153.9 611.3" stroke="#1c2833" stroke-width="1.2"/>
<path d="M135.4 638.5 L153.9 638.5" stroke="#1c2833" stroke-width="1.2"/>
<ellipse cx="153.9" cy="624.9" rx="3.4" ry="13.8" stroke="#1c2833" stroke-width="1.3"/>
<ellipse cx="153.9" cy="624.9" rx="2.3" ry="12.2" stroke="#1c2833"/>
<ellipse cx="154.1" cy="624.9" rx="1.3" ry="10.5" stroke="#1c2833"/>
<ellipse cx="222.3" cy="583.5" rx="44.7" ry="33.5" transform="rotate(2 222.3 583.5)" stroke-width="1.1"/>
<ellipse cx="222.3" cy="583.5" rx="41.8" ry="30.5" transform="rotate(2 222.3 583.5)" stroke-width="1.1"/>
<ellipse cx="226.9" cy="654.5" rx="37.0" ry="19.0" transform="rotate(-7 226.9 654.5)" stroke-width="1.2"/>
<ellipse cx="226.9" cy="654.5" rx="35.6" ry="17.7" transform="rotate(-7 226.9 654.5)" stroke-width="0.9"/>
<ellipse cx="226.9" cy="654.5" rx="34.1" ry="16.4" transform="rotate(-7 226.9 654.5)" stroke-width="1.1"/>
<ellipse cx="226.7" cy="654.9" rx="7.6" ry="3.8" stroke-width="1.2"/>
<ellipse cx="226.7" cy="654.9" rx="3.8" ry="1.6"/>
<path d="M225.5 637.2 L225.5 651.1"/>
<path d="M225.5 658.6 L225.5 673.0"/>
<path d="M228.4 637.2 L228.4 651.1"/>
<path d="M228.4 658.6 L228.4 673.0"/>
<path d="M233.7 652.5 L259.0 643.1"/>
<path d="M234.3 654.2 L260.4 645.1"/>
<path d="M234.3 655.7 L258.4 661.6"/>
<path d="M233.7 657.4 L256.6 663.6"/>
<path d="M236.6 652.2 L237.6 653.0" stroke-width="0.7"/>
<path d="M239.2 651.2 L240.2 652.0" stroke-width="0.7"/>
<path d="M241.8 650.3 L242.8 651.1" stroke-width="0.7"/>
<path d="M244.4 649.3 L245.3 650.2" stroke-width="0.7"/>
<path d="M247.0 648.4 L247.9 649.2" stroke-width="0.7"/>
<path d="M249.6 647.5 L250.5 648.3" stroke-width="0.7"/>
<path d="M252.1 646.5 L253.1 647.3" stroke-width="0.7"/>
<path d="M254.7 645.6 L255.7 646.4" stroke-width="0.7"/>
<path d="M257.3 644.6 L258.3 645.5" stroke-width="0.7"/>
<path d="M193.9 712.1 C194.5 710.9,194.5 707.6,197.5 704.9 C200.5 702.3,206.6 698.4,211.9 696.2 C217.2 693.9,224.1 692.2,229.4 691.4 C234.7 690.6,239.0 690.6,243.8 691.4 C248.5 692.2,254.1 694.2,258.1 696.2 C262.1 698.2,265.7 701.2,267.7 703.3 C269.6 705.5,269.3 708.0,269.7 708.9" stroke-width="1.2"/>
<path d="M195.5 712.5 C196.9 710.9,200.5 705.5,203.9 702.9 C207.3 700.4,211.6 698.7,215.9 697.4 C220.1 696.0,224.8 695.0,229.4 694.6 C234.1 694.1,238.7 693.5,243.8 694.6 C248.8 695.6,255.6 698.7,259.7 700.9 C263.8 703.1,267.0 706.6,268.5 707.7" stroke-width="1.6"/>
<path d="M193.9 712.1 C194.1 713.2,193.7 716.1,195.1 718.5 C196.5 720.9,199.5 724.1,202.3 726.4 C205.1 728.8,208.2 731.1,211.9 732.8 C215.6 734.5,220.6 736.1,224.6 736.8 C228.6 737.5,232.3 737.2,235.8 736.8 C239.2 736.4,241.9 736.0,245.4 734.4 C248.8 732.8,253.3 729.8,256.5 727.2 C259.7 724.7,262.4 721.8,264.5 719.3 C266.6 716.7,268.4 713.8,269.3 712.1 C270.1 710.4,269.6 709.4,269.7 708.9" stroke-width="1.2"/>
<path d="M209.5 729.6 C209.4 728.8,208.4 726.6,209.1 724.8 C209.8 723.1,210.9 721.0,213.5 719.3 C216.1 717.6,220.9 715.6,224.6 714.6 C228.4 713.7,232.6 713.5,235.8 713.3 C239.0 713.1,240.7 713.0,243.8 713.7 C246.8 714.4,252.4 717.0,254.1 717.7" stroke-width="1.4"/>
<path d="M254.1 717.7 C254.5 716.6,255.3 713.2,256.5 711.3 C257.7 709.4,260.5 707.0,261.3 706.1"/>
<path d="M261.3 706.1 L265.3 710.5 L264.5 719.3"/>
<path d="M254.1 717.7 C253.1 718.2,249.6 719.8,247.7 720.9 C245.9 721.9,243.5 723.1,243.0 724.1 C242.4 725.0,242.7 725.8,244.6 726.4 C246.4 727.1,252.5 727.8,254.1 728.0"/>
<path d="M261.3 706.1 L258.1 712.9 L262.9 713.3 L265.3 710.5"/>
<path d="M262.9 713.3 L264.1 718.5"/>
<path d="M225.8 736.0 C225.8 734.4,225.4 728.6,225.6 726.4 C225.8 724.3,225.9 724.0,227.0 723.3 C228.2 722.5,230.7 722.1,232.6 722.1 C234.5 722.1,236.8 722.5,238.2 723.3 C239.6 724.0,240.4 724.3,241.0 726.4 C241.5 728.6,241.3 734.4,241.4 736.0"/>
<path d="M226.6 736.0 C227.4 735.6,229.5 734.2,231.0 733.8 C232.5 733.3,234.1 733.1,235.8 733.3 C237.5 733.5,240.4 734.9,241.4 735.2"/>
<path d="M227.4 738.0 C228.2 737.7,230.1 736.4,231.8 736.0 C233.5 735.6,235.7 735.3,237.4 735.6 C239.1 735.9,241.2 737.3,242.0 737.6"/>
<path d="M226.6 736.0 L227.4 738.0"/>
<path d="M241.4 735.2 L242.0 737.6"/>
<path d="M227.4 738.0 C227.5 739.8,227.6 745.6,227.8 748.8 C228.0 751.9,227.8 754.2,228.6 756.7 C229.4 759.3,231.1 762.0,232.6 763.9 C234.1 765.8,236.9 767.2,237.8 767.9"/>
<path d="M237.8 767.9 C238.4 767.1,240.4 765.2,241.4 763.1 C242.4 761.0,243.4 758.1,243.8 755.1 C244.1 752.2,243.6 748.4,243.4 745.6 C243.1 742.7,242.4 739.3,242.2 738.0"/>
<path d="M228.6 756.7 L235.8 759.9 L243.8 754.3"/>
<path d="M235.8 759.9 L237.8 767.9"/>
<path d="M232.6 763.9 L235.0 759.9"/>
<path d="M241.4 763.1 L239.4 759.9"/>
<ellipse cx="235.8" cy="755.5" rx="1.8" ry="1.6"/>
<ellipse cx="239.6" cy="783.2" rx="11.3" ry="6.3" transform="rotate(-10 239.6 783.2)" stroke-width="1.2"/>
<ellipse cx="239.6" cy="783.2" rx="9.8" ry="5.3" transform="rotate(-10 239.6 783.2)"/>
<path d="M232.1 783.9 L235.9 780.1 L243.4 779.1 L247.2 782.6 L243.4 786.4 L235.9 787.4Z" stroke-width="1.1"/>
<ellipse cx="241.3" cy="801.2" rx="7.8" ry="4.5" transform="rotate(-4 241.3 801.2)" stroke-width="1.0"/>
<ellipse cx="241.3" cy="801.2" rx="4.5" ry="2.1" transform="rotate(-4 241.3 801.2)" stroke-width="1.0"/>
<ellipse cx="243.0" cy="816.6" rx="7.8" ry="4.5" transform="rotate(-4 243.0 816.6)" stroke-width="1.0"/>
<ellipse cx="243.0" cy="816.6" rx="4.5" ry="2.1" transform="rotate(-4 243.0 816.6)" stroke-width="1.0"/>
<ellipse cx="245.3" cy="838.6" rx="14.1" ry="6.9" transform="rotate(-6 245.3 838.6)" stroke-width="1.0"/>
<ellipse cx="245.3" cy="839.6" rx="12.1" ry="5.5" transform="rotate(-6 245.3 839.6)" stroke-width="0.9"/>
<ellipse cx="245.9" cy="844.2" rx="14.1" ry="6.9" transform="rotate(-6 245.9 844.2)" stroke-width="1.0"/>
<ellipse cx="245.9" cy="845.2" rx="12.1" ry="5.5" transform="rotate(-6 245.9 845.2)" stroke-width="0.9"/>
<ellipse cx="246.6" cy="849.7" rx="14.1" ry="6.9" transform="rotate(-6 246.6 849.7)" stroke-width="1.0"/>
<ellipse cx="246.6" cy="850.7" rx="12.1" ry="5.5" transform="rotate(-6 246.6 850.7)" stroke-width="0.9"/>
<ellipse cx="247.2" cy="855.2" rx="14.1" ry="6.9" transform="rotate(-6 247.2 855.2)" stroke-width="1.0"/>
<ellipse cx="247.2" cy="856.2" rx="12.1" ry="5.5" transform="rotate(-6 247.2 856.2)" stroke-width="0.9"/>
<ellipse cx="247.8" cy="860.8" rx="14.1" ry="6.9" transform="rotate(-6 247.8 860.8)" stroke-width="1.0"/>
<ellipse cx="247.8" cy="861.8" rx="12.1" ry="5.5" transform="rotate(-6 247.8 861.8)" stroke-width="0.9"/>
<path d="M243.4 840.5 L244.0 845.5"/>
<path d="M248.4 853.1 L248.8 858.8"/>
<path d="M248.4 855.9 L255.4 855.0"/>
<ellipse cx="249.3" cy="877.6" rx="14.1" ry="7.8" transform="rotate(-5 249.3 877.6)" stroke-width="1.2"/>
<ellipse cx="249.3" cy="877.6" rx="12.6" ry="6.5" transform="rotate(-5 249.3 877.6)"/>
<path d="M240.5 878.3 L244.3 874.2 L254.1 873.2 L258.1 877.0 L254.4 881.4 L244.7 882.0Z" stroke-width="1.1"/>
<ellipse cx="250.6" cy="899.0" rx="12.3" ry="6.9" transform="rotate(-5 250.6 899.0)" stroke="#555" stroke-width="0.9"/>
<ellipse cx="249.8" cy="899.9" rx="11.3" ry="6.0" transform="rotate(-5 249.8 899.9)" stroke="#555" stroke-width="0.8"/>
<path d="M200.4 944.2 C201.3 942.4,202.3 937.0,205.8 933.5 C209.2 929.9,214.7 925.9,221.2 922.8 C227.7 919.7,238.0 916.6,245.0 915.1 C251.9 913.5,256.8 913.5,262.8 913.5 C268.7 913.5,274.6 913.7,280.6 915.1 C286.5 916.4,293.8 919.1,298.4 921.6 C302.9 924.1,305.9 927.0,307.9 929.9 C309.8 932.9,309.8 937.8,310.2 939.4" stroke-width="1.1"/>
<path d="M200.4 944.2 C200.7 945.9,200.7 951.1,202.2 954.9 C203.7 958.6,206.6 963.2,209.3 966.7 C212.1 970.3,215.7 973.2,218.8 976.2 C222.0 979.2,224.4 982.0,228.3 984.5 C232.3 987.1,238.2 990.1,242.6 991.6 C246.9 993.2,252.5 993.6,254.5 994.0" stroke-width="1.1"/>
<path d="M281.2 988.1 C283.0 986.5,289.0 982.5,292.4 978.6 C295.9 974.6,299.4 968.9,301.9 964.3 C304.5 959.8,306.5 955.4,307.9 951.3 C309.2 947.1,309.8 941.4,310.2 939.4" stroke-width="1.1"/>
<path d="M254.5 994.0 C255.2 994.8,257.2 997.5,259.2 998.8 C261.2 1000.0,263.6 1001.4,266.3 1001.4 C269.1 1001.3,273.4 1000.1,275.8 998.5 C278.2 997.0,279.7 994.0,280.6 992.2 C281.5 990.5,281.1 988.8,281.2 988.1" stroke-width="1.4"/>
<path d="M256.2 995.2 C257.5 995.8,261.1 998.5,263.9 998.8 C266.8 999.1,270.9 998.3,273.4 997.0 C276.0 995.7,278.4 992.0,279.4 991.1"/>
<path d="M257.4 992.8 C258.9 993.3,263.3 995.7,266.3 995.8 C269.4 995.9,273.4 994.6,275.8 993.4 C278.2 992.2,279.8 989.5,280.6 988.7"/>
<path d="M216.5 931.7 C217.5 930.1,221.6 928.7,224.2 927.6 C226.8 926.4,230.1 924.7,231.9 924.9 C233.7 925.1,234.1 926.1,234.9 928.7 C235.7 931.4,236.6 936.8,236.6 940.6 C236.6 944.4,235.9 949.1,234.9 951.3 C233.9 953.5,232.6 954.5,230.7 953.7 C228.8 952.9,225.7 949.3,223.6 946.5 C221.5 943.8,219.4 939.5,218.2 937.0 C217.1 934.6,215.5 933.3,216.5 931.7Z" stroke-width="1.1"/>
<path d="M218.6 932.9 C220.6 931.2,229.2 926.3,231.9 927.6 C234.5 928.8,234.3 936.8,234.5 940.6 C234.7 944.4,233.7 948.2,233.1 950.1 C232.5 952.0,232.1 952.6,230.7 951.9 C229.3 951.2,226.6 948.3,224.8 945.9 C223.0 943.6,221.1 939.8,220.0 937.6 C219.0 935.5,216.6 934.6,218.6 932.9Z" stroke-width="0.8"/>
<path d="M218.2 934.1 C219.5 933.7,223.3 932.6,226.0 931.7 C228.6 930.8,232.9 929.2,234.3 928.7"/>
<path d="M221.2 932.3 C222.2 932.0,225.4 931.4,227.2 930.5 C228.9 929.6,231.1 927.6,231.9 927.0" stroke-width="0.8"/>
<path d="M250.3 922.2 C251.8 920.1,256.9 919.9,260.4 919.8 C263.8 919.7,269.2 919.5,271.1 921.6 C272.9 923.7,272.3 928.7,271.7 932.3 C271.1 935.9,269.2 940.4,267.5 943.0 C265.8 945.6,263.6 947.7,261.6 947.7 C259.6 947.7,257.3 945.6,255.6 943.0 C254.0 940.4,252.4 935.8,251.5 932.3 C250.6 928.8,248.8 924.3,250.3 922.2Z" stroke-width="1.1"/>
<path d="M252.3 924.0 C253.5 922.3,257.6 922.3,260.4 922.2 C263.2 922.2,267.7 922.1,269.3 923.8 C270.8 925.4,270.1 929.3,269.6 932.3 C269.1 935.3,267.7 939.6,266.3 941.8 C265.0 944.0,263.2 945.6,261.6 945.6 C260.0 945.6,258.2 944.0,256.8 941.8 C255.5 939.6,254.3 935.3,253.5 932.3 C252.7 929.3,251.2 925.7,252.3 924.0Z" stroke-width="0.8"/>
<path d="M250.9 925.2 C252.5 925.5,257.0 927.1,260.4 927.0 C263.7 926.9,269.3 925.0,271.1 924.6"/>
<path d="M253.3 922.8 C254.5 923.1,257.8 924.6,260.4 924.6 C263.0 924.5,267.3 922.9,268.7 922.6" stroke-width="0.8"/>
<path d="M287.7 924.0 C289.2 922.6,292.4 925.4,294.8 926.4 C297.2 927.4,301.1 927.4,301.9 929.9 C302.7 932.5,300.7 938.4,299.6 941.8 C298.4 945.2,296.4 948.4,294.8 950.1 C293.2 951.8,291.4 952.7,290.1 951.9 C288.7 951.1,287.2 948.2,286.5 945.4 C285.8 942.5,285.7 938.2,285.9 934.7 C286.1 931.1,286.2 925.4,287.7 924.0Z" stroke-width="1.1"/>
<path d="M289.1 926.1 C291.2 925.5,298.6 928.4,300.1 930.9 C301.7 933.4,299.2 938.2,298.1 941.2 C297.1 944.2,295.1 947.2,293.9 948.7 C292.6 950.1,291.6 950.5,290.7 949.9 C289.7 949.2,288.5 947.3,287.9 944.8 C287.4 942.2,287.3 937.8,287.4 934.7 C287.6 931.6,287.0 926.8,289.1 926.1Z" stroke-width="0.8"/>
<path d="M286.5 930.5 C287.7 930.9,291.1 932.5,293.6 932.9 C296.1 933.3,300.0 932.9,301.3 932.9"/>
<path d="M288.3 927.6 C289.3 927.9,292.1 929.4,294.2 929.9 C296.3 930.4,299.7 930.4,300.7 930.5" stroke-width="0.8"/>
<path d="M202.2 945.4 C202.5 943.5,204.2 941.4,205.2 941.2 C206.2 941.0,206.4 940.5,208.2 944.2 C209.9 947.8,214.8 959.4,215.9 963.2 C217.0 966.9,215.6 966.3,214.7 966.7 C213.8 967.1,212.4 967.9,210.5 965.5 C208.7 963.2,204.8 955.8,203.4 952.5 C202.0 949.1,201.9 947.2,202.2 945.4Z" stroke-width="1.1"/>
<path d="M204.0 945.9 C204.5 946.0,205.3 943.6,207.0 946.5 C208.7 949.5,212.9 960.9,214.1 963.8"/>
<path d="M202.2 948.9 C202.8 949.1,205.0 950.6,205.8 950.1 C206.6 949.6,206.8 946.6,207.0 945.9" stroke-width="0.8"/>
<path d="M309.1 939.4 C308.7 941.2,308.1 945.9,306.7 950.1 C305.3 954.3,301.7 962.0,300.7 964.3"/>
<path d="M307.9 940.6 C307.3 942.4,305.7 947.7,304.3 951.3 C302.9 954.9,300.3 960.2,299.6 962.0" stroke-width="1.6"/>
<path d="M234.3 966.1 C236.1 965.4,240.5 963.1,245.0 962.0 C249.4 960.9,258.3 960.0,261.0 959.6"/>
<path d="M261.0 959.6 L261.6 969.1"/>
<path d="M261.6 969.1 C259.8 969.3,254.6 969.3,250.9 970.3 C247.1 971.3,241.0 974.2,239.0 975.0"/>
<path d="M239.0 975.0 L234.3 966.1"/>
<path d="M266.9 959.8 C269.2 960.4,276.9 962.0,280.6 963.2 C284.2 964.3,287.5 966.1,288.9 966.7"/>
<path d="M288.9 966.7 L284.1 973.8"/>
<path d="M284.1 973.8 C282.7 973.4,279.0 971.9,275.8 971.2 C272.7 970.5,266.9 969.9,265.1 969.7"/>
<path d="M240.2 974.4 C242.0 973.9,247.3 972.1,250.9 971.5 C254.5 970.9,259.8 971.0,261.6 970.9" stroke-width="0.8"/>
<path d="M265.7 971.5 C267.4 971.8,272.9 972.5,275.8 973.2 C278.7 974.0,281.8 975.7,282.9 976.2" stroke-width="0.8"/>
<ellipse cx="259.2" cy="982.2" rx="24.3" ry="10.4" transform="rotate(-3 259.2 982.2)" stroke-width="1.2"/>
<ellipse cx="259.2" cy="982.4" rx="21.4" ry="8.5" transform="rotate(-3 259.2 982.4)" stroke-width="1.0"/>
<ellipse cx="259.2" cy="982.2" rx="14.8" ry="5.0" transform="rotate(-3 259.2 982.2)" stroke-width="1.0"/>
<path d="M246.1 981.4 L272.3 981.4" stroke-width="1.0"/>
<path d="M246.1 983.1 L272.3 983.1" stroke-width="1.0"/>
<path d="M252.7 977.5 L265.7 985.3" stroke-width="1.0"/>
<path d="M252.7 979.2 L265.7 987.0" stroke-width="1.0"/>
<path d="M265.7 977.5 L252.7 985.3" stroke-width="1.0"/>
<path d="M265.7 979.2 L252.7 987.0" stroke-width="1.0"/>
<path d="M226.0 976.2 L230.7 969.7 L235.5 975.0 L234.9 983.3 L228.3 985.7Z" stroke-width="1.2"/>
<path d="M228.3 976.2 L231.9 972.7 L233.7 976.2 L233.1 982.2" stroke-width="0.9"/>
<path d="M284.1 975.0 L291.2 969.7 L291.8 973.8 L285.3 983.3" stroke-width="1.2"/>
<path d="M228.3 985.7 C229.5 986.5,232.7 989.2,235.5 990.5 C238.2 991.7,243.4 992.9,245.0 993.4"/>
<path d="M234.9 983.3 C235.8 984.1,237.9 986.9,240.2 988.1 C242.5 989.3,247.1 990.1,248.5 990.5"/>
<path d="M187.4 957.2 L192.1 957.2 L192.1 968.5 L187.4 968.5Z" fill="#777" stroke-width="1.0"/>
<path d="M187.4 958.4 L192.1 957.9" stroke="#222" stroke-width="0.8"/>
<path d="M187.4 959.8 L192.1 959.4" stroke="#222" stroke-width="0.8"/>
<path d="M187.4 961.3 L192.1 960.8" stroke="#222" stroke-width="0.8"/>
<path d="M187.4 962.7 L192.1 962.2" stroke="#222" stroke-width="0.8"/>
<path d="M187.4 964.1 L192.1 963.6" stroke="#222" stroke-width="0.8"/>
<path d="M187.4 965.5 L192.1 965.1" stroke="#222" stroke-width="0.8"/>
<path d="M187.4 967.0 L192.1 966.5" stroke="#222" stroke-width="0.8"/>
<ellipse cx="190.4" cy="972.1" rx="4.3" ry="3.8" stroke-width="1.0"/>
<path d="M259.8 1005.3 L256.8 1008.3 L148.0 1004.3 L139.5 1015.4" stroke-dasharray="2.4 3.4" stroke-width="1.0"/>
<ellipse cx="131.0" cy="1029.3" rx="13.0" ry="11.4" transform="rotate(15 131.0 1029.3)" stroke-width="2.2" stroke="#151515"/>
<path d="M163.4 1064.8 C163.7 1063.5,163.7 1059.5,165.0 1057.1 C166.3 1054.6,168.8 1051.7,171.2 1050.1 C173.5 1048.6,176.6 1047.7,178.9 1047.8 C181.2 1048.0,183.5 1049.6,185.0 1050.9 C186.6 1052.2,187.6 1054.8,188.1 1055.5"/>
<path d="M163.4 1064.8 C163.6 1066.1,163.4 1070.0,164.2 1072.5 C165.0 1075.1,166.4 1078.3,168.1 1080.2 C169.7 1082.2,171.9 1084.1,174.2 1084.1 C176.6 1084.1,180.0 1082.3,182.0 1080.2 C183.9 1078.2,185.2 1073.2,185.8 1071.8"/>
<path d="M177.3 1048.3 L176.6 1083.6" stroke-width="0.9"/>
<path d="M164.2 1067.9 C165.4 1068.9,167.9 1072.9,171.2 1073.8 C174.4 1074.6,181.4 1073.0,183.5 1072.8" stroke-width="0.9"/>
<path d="M188.1 1055.5 C189.4 1055.8,191.0 1057.9,195.8 1057.1 C200.7 1056.3,209.2 1053.7,217.4 1050.9 C225.7 1048.1,239.2 1043.7,245.2 1040.1 C251.3 1036.5,251.1 1031.4,253.7 1029.3 C256.3 1027.3,258.0 1028.3,260.7 1027.8 C263.4 1027.3,266.8 1026.0,269.9 1026.2 C273.0 1026.5,276.9 1028.3,279.2 1029.3 C281.5 1030.3,283.0 1031.9,283.8 1032.4"/>
<path d="M185.8 1071.8 C187.2 1071.1,189.0 1069.1,194.3 1067.9 C199.6 1066.7,209.7 1066.4,217.4 1064.8 C225.2 1063.3,233.1 1061.2,240.6 1058.6 C248.1 1056.1,256.3 1051.9,262.2 1049.4 C268.1 1046.8,272.7 1045.3,276.1 1043.2 C279.4 1041.1,281.0 1038.8,282.3 1037.0 C283.5 1035.2,283.5 1033.2,283.8 1032.4"/>
<path d="M194.3 1069.0 C198.2 1068.5,209.7 1067.8,217.4 1066.4 C225.2 1064.9,232.9 1063.1,240.6 1060.5 C248.3 1057.9,258.0 1053.4,263.7 1050.9 C269.4 1048.5,273.0 1046.5,274.8 1045.7" stroke-width="0.9"/>
<path d="M268.4 1027.0 C268.9 1028.2,270.4 1031.0,271.5 1033.9 C272.5 1036.9,274.0 1042.9,274.5 1044.7"/>
<path d="M279.2 1030.1 C278.8 1031.5,277.6 1036.0,276.9 1038.6 C276.1 1041.2,275.2 1044.5,274.8 1045.7"/>
<ellipse cx="266.8" cy="1033.2" rx="2.8" ry="3.1"/>
<path d="M246.8 1040.9 L266.8 1029.3" stroke-width="0.9"/>
<path d="M194.3 1057.4 L196.2 1058.6"/>
<path d="M246.5 1084.6 C247.0 1081.8,249.9 1072.4,251.1 1069.7 C252.3 1067.1,253.1 1068.3,253.7 1068.5 C254.3 1068.7,255.4 1068.2,254.8 1071.0 C254.2 1073.8,251.3 1082.7,250.2 1085.2 C249.0 1087.7,248.3 1086.2,247.7 1086.1 C247.1 1086.0,245.9 1087.3,246.5 1084.6Z"/>
<path d="M251.1 1069.7 L252.3 1072.5 L254.8 1071.0" stroke-width="0.8"/>
<ellipse cx="109.7" cy="1074.7" rx="20.9" ry="19.1" transform="rotate(-30 109.7 1074.7)" stroke-width="1.1"/>
<ellipse cx="110.4" cy="1072.8" rx="15.0" ry="13.2" transform="rotate(-30 110.4 1072.8)" stroke-width="1.2"/>
<ellipse cx="110.0" cy="1073.9" rx="13.9" ry="12.0" transform="rotate(-30 110.0 1073.9)" stroke-width="0.9"/>
<path d="M96.6 1076.7 C96.7 1075.9,96.6 1073.7,97.0 1072.3 C97.4 1070.9,98.1 1069.4,99.0 1068.1 C99.8 1066.8,101.0 1065.5,102.3 1064.5 C103.6 1063.5,105.1 1062.6,106.6 1062.0 C108.1 1061.4,109.8 1061.0,111.4 1060.9 C113.0 1060.8,114.6 1060.9,116.0 1061.3 C117.5 1061.7,119.3 1062.9,120.0 1063.2" stroke-width="1.0"/>
<path d="M97.3 1077.1 C97.4 1076.4,97.3 1074.3,97.7 1073.0 C98.1 1071.6,98.7 1070.2,99.6 1069.0 C100.4 1067.8,101.6 1066.6,102.8 1065.6 C104.0 1064.7,105.5 1063.8,106.9 1063.2 C108.4 1062.7,110.0 1062.3,111.5 1062.2 C112.9 1062.0,114.5 1062.1,115.9 1062.5 C117.2 1062.8,119.0 1063.9,119.6 1064.2" stroke-width="1.0"/>
<path d="M97.9 1077.5 C98.0 1076.9,98.0 1074.9,98.4 1073.7 C98.7 1072.4,99.4 1071.1,100.2 1069.9 C101.0 1068.8,102.1 1067.6,103.3 1066.7 C104.5 1065.8,105.8 1065.0,107.2 1064.5 C108.6 1063.9,110.1 1063.5,111.5 1063.4 C112.9 1063.3,114.4 1063.4,115.7 1063.7 C117.0 1064.0,118.6 1065.0,119.2 1065.2" stroke-width="1.0"/>
<path d="M98.6 1077.9 C98.7 1077.3,98.7 1075.5,99.0 1074.3 C99.4 1073.2,100.0 1071.9,100.8 1070.8 C101.6 1069.8,102.7 1068.7,103.8 1067.8 C104.9 1067.0,106.2 1066.2,107.5 1065.7 C108.8 1065.1,110.3 1064.8,111.6 1064.6 C112.9 1064.5,114.3 1064.6,115.5 1064.8 C116.7 1065.1,118.3 1066.0,118.8 1066.2" stroke-width="1.0"/>
<path d="M99.3 1078.3 C99.3 1077.8,99.3 1076.1,99.7 1075.0 C100.1 1073.9,100.7 1072.8,101.4 1071.8 C102.2 1070.7,103.2 1069.7,104.3 1068.9 C105.3 1068.1,106.6 1067.4,107.8 1066.9 C109.0 1066.4,110.4 1066.0,111.7 1065.9 C112.9 1065.7,114.2 1065.8,115.4 1066.0 C116.5 1066.2,117.9 1067.0,118.5 1067.2" stroke-width="1.0"/>
<ellipse cx="108.8" cy="1079.2" rx="11.2" ry="9.4" transform="rotate(-30 108.8 1079.2)" stroke-width="1.2"/>
<ellipse cx="108.4" cy="1080.6" rx="8.8" ry="7.0" transform="rotate(-30 108.4 1080.6)" stroke-width="0.9"/>
<path d="M100.8 1082.2 C101.6 1082.0,103.8 1080.2,105.6 1080.6 C107.3 1081.0,110.2 1084.0,111.1 1084.6"/>
<path d="M88.4 1076.7 C88.5 1078.0,87.9 1082.0,88.7 1084.6 C89.4 1087.3,90.8 1090.3,92.8 1092.6 C94.8 1094.9,98.1 1096.9,100.8 1098.2 C103.4 1099.4,106.1 1100.1,108.8 1100.2 C111.4 1100.2,114.2 1099.8,116.7 1098.6 C119.3 1097.3,122.0 1094.9,123.9 1092.6 C125.8 1090.3,126.9 1087.7,127.9 1084.6 C128.8 1081.6,129.3 1076.0,129.6 1074.3" stroke-width="1.2"/>
<path d="M90.8 1083.0 C91.7 1084.1,93.8 1087.8,96.0 1089.4 C98.2 1091.0,101.2 1092.1,104.0 1092.6 C106.8 1093.1,110.0 1093.1,112.7 1092.6 C115.5 1092.1,118.5 1091.0,120.7 1089.4 C123.0 1087.8,125.0 1085.0,126.3 1083.0 C127.6 1081.0,128.3 1078.4,128.7 1077.5" stroke-width="1.0"/>
<path d="M93.6 1087.0 L92.8 1092.6"/>
<path d="M97.6 1089.8 L96.0 1095.8"/>
<path d="M104.0 1092.6 L102.4 1099.0"/>
<path d="M108.0 1093.0 L106.4 1099.8"/>
<path d="M115.1 1092.2 L113.5 1099.4"/>
<path d="M119.9 1089.8 L119.1 1097.0"/>
<path d="M123.9 1086.6 L123.5 1093.4"/>
<path d="M127.1 1081.4 L126.7 1087.8"/>
<path d="M91.2 1081.4 L90.0 1087.8"/>
<ellipse cx="74.5" cy="1094.6" rx="4.0" ry="6.9" transform="rotate(10 74.5 1094.6)" stroke-width="1.1"/>
<ellipse cx="74.6" cy="1094.8" rx="2.7" ry="5.3" transform="rotate(10 74.6 1094.8)" stroke-width="0.9"/>
<path d="M72.5 1098.2 L75.7 1091.0" stroke-width="0.8"/>
<path d="M73.6 1097.7 L76.3 1090.7" stroke-width="0.8"/>
<path d="M74.7 1097.2 L77.0 1090.4" stroke-width="0.8"/>
<path d="M75.8 1096.7 L77.6 1090.1" stroke-width="0.8"/>
<path d="M74.1 1087.8 L88.4 1087.0"/>
<path d="M75.7 1101.5 L84.8 1101.0"/>
<path d="M81.3 1087.7 L80.9 1101.2"/>
<path d="M88.4 1087.0 L88.7 1095.8"/>
<path d="M88.4 1099.0 L82.5 1110.9"/>
<path d="M117.5 1099.0 L108.8 1122.1"/>
<path d="M82.5 1110.9 C83.1 1112.0,84.5 1115.4,86.4 1117.3 C88.4 1119.2,91.8 1121.0,94.4 1122.1 C97.1 1123.2,100.0 1123.7,102.4 1123.7 C104.8 1123.7,107.7 1122.4,108.8 1122.1"/>
<path d="M86.4 1103.0 C88.0 1104.0,92.8 1107.7,96.0 1109.2 C99.2 1110.6,102.5 1111.6,105.6 1111.7 C108.6 1111.9,112.7 1110.4,114.2 1110.1" stroke-width="0.9"/>
<path d="M85.9 1104.7 C87.5 1105.8,92.3 1109.6,95.5 1111.1 C98.7 1112.6,102.2 1113.5,105.2 1113.6 C108.2 1113.8,112.1 1112.3,113.5 1112.0" stroke-width="0.9"/>
<path d="M85.3 1106.5 C86.9 1107.6,91.8 1111.5,95.1 1113.0 C98.3 1114.5,101.8 1115.4,104.8 1115.6 C107.7 1115.7,111.4 1114.2,112.7 1114.0" stroke-width="0.9"/>
<path d="M84.8 1108.2 C86.4 1109.3,91.3 1113.4,94.6 1114.9 C97.8 1116.5,101.5 1117.3,104.4 1117.5 C107.3 1117.6,110.8 1116.1,112.0 1115.9" stroke-width="0.9"/>
<path d="M84.2 1110.0 C85.9 1111.1,90.8 1115.3,94.1 1116.8 C97.4 1118.4,101.1 1119.2,104.0 1119.4 C106.8 1119.5,110.1 1118.1,111.3 1117.8" stroke-width="0.9"/>
<path d="M83.7 1111.7 C85.3 1112.9,90.3 1117.1,93.6 1118.7 C96.9 1120.3,100.7 1121.1,103.6 1121.3 C106.4 1121.5,109.4 1120.0,110.6 1119.7" stroke-width="0.9"/>
<path d="M83.1 1113.5 C84.8 1114.7,89.8 1119.0,93.1 1120.7 C96.5 1122.3,100.4 1123.0,103.2 1123.2 C106.0 1123.4,108.8 1121.9,109.9 1121.6" stroke-width="0.9"/>
</g>
<g id="drawing-labels" opacity="0.999">
<text x="-0.62" y="0.00" font-size="16.35" font-weight="normal" font-family='"Liberation Sans", sans-serif' fill="#1a1a1a" textLength="15.44" lengthAdjust="spacingAndGlyphs" stroke="#1a1a1a" stroke-width="0.35" transform="translate(252.95 330.90) rotate(-90)">P8</text>
<text x="-0.56" y="0.00" font-size="14.93" font-weight="normal" font-family='"Liberation Sans", sans-serif' fill="#1a1a1a" textLength="13.52" lengthAdjust="spacingAndGlyphs" stroke="#1a1a1a" stroke-width="0.35" transform="translate(163.75 364.90) rotate(-90)">R9</text>
<text x="-0.59" y="0.00" font-size="14.93" font-weight="normal" font-family='"Liberation Sans", sans-serif' fill="#1a1a1a" textLength="14.16" lengthAdjust="spacingAndGlyphs" stroke="#1a1a1a" stroke-width="0.35" transform="translate(168.15 389.80) rotate(-90)">R8</text>
<text x="-0.59" y="0.00" font-size="14.93" font-weight="normal" font-family='"Liberation Sans", sans-serif' fill="#1a1a1a" textLength="14.16" lengthAdjust="spacingAndGlyphs" stroke="#1a1a1a" stroke-width="0.35" transform="translate(229.95 416.90) rotate(-90)">R6</text>
<text x="-0.63" y="0.00" font-size="14.17" font-weight="normal" font-family='"Liberation Sans", sans-serif' fill="#1a1a1a" textLength="13.58" lengthAdjust="spacingAndGlyphs" stroke="#1a1a1a" stroke-width="0.35" transform="translate(284.45 525.90) rotate(-90)">P6</text>
<text x="-0.59" y="0.00" font-size="14.93" font-weight="normal" font-family='"Liberation Sans", sans-serif' fill="#1a1a1a" textLength="14.06" lengthAdjust="spacingAndGlyphs" stroke="#1a1a1a" stroke-width="0.35" transform="translate(324.45 441.00) rotate(-90)">R4</text>
<text x="-0.58" y="0.00" font-size="14.93" font-weight="normal" font-family='"Liberation Sans", sans-serif' fill="#1a1a1a" textLength="13.95" lengthAdjust="spacingAndGlyphs" stroke="#1a1a1a" stroke-width="0.35" transform="translate(349.55 440.40) rotate(-90)">R5</text>
<text x="-0.61" y="0.00" font-size="14.93" font-weight="normal" font-family='"Liberation Sans", sans-serif' fill="#1a1a1a" textLength="20.68" lengthAdjust="spacingAndGlyphs" stroke="#1a1a1a" stroke-width="0.35" transform="translate(144.05 447.00) rotate(-90)">R10</text>
<text x="-0.60" y="0.00" font-size="14.74" font-weight="normal" font-family='"Liberation Sans", sans-serif' fill="#1a1a1a" textLength="15.40" lengthAdjust="spacingAndGlyphs" stroke="#1a1a1a" stroke-width="0.35" transform="translate(130.05 513.90) rotate(-90)">M4</text>
<text x="-0.45" y="0.00" font-size="13.7" font-weight="normal" font-family='"Liberation Sans", sans-serif' fill="#1f2a36" textLength="11.37" lengthAdjust="spacingAndGlyphs" stroke="#1f2a36" stroke-width="0.15" transform="translate(131.25 530.40) rotate(-90)">M5</text>
<text x="-0.62" y="0.00" font-size="14.93" font-weight="normal" font-family='"Liberation Sans", sans-serif' fill="#1a1a1a" textLength="14.59" lengthAdjust="spacingAndGlyphs" stroke="#1a1a1a" stroke-width="0.35" transform="translate(93.15 564.10) rotate(-90)">R6</text>
<text x="-0.69" y="0.00" font-size="15.31" font-weight="normal" font-family='"Liberation Sans", sans-serif' fill="#1a2530" textLength="15.66" lengthAdjust="spacingAndGlyphs" stroke="#1a2530" stroke-width="0.35" transform="translate(89.85 636.00) rotate(-90)">P9</text>
<text x="-0.71" y="0.00" font-size="15.5" font-weight="normal" font-family='"Liberation Sans", sans-serif' fill="#1a1a1a" textLength="16.99" lengthAdjust="spacingAndGlyphs" stroke="#1a1a1a" stroke-width="0.35" transform="translate(172.35 599.10) rotate(-90)">R7</text>
<text x="-0.59" y="0.00" font-size="14.93" font-weight="normal" font-family='"Liberation Sans", sans-serif' fill="#1a1a1a" textLength="14.16" lengthAdjust="spacingAndGlyphs" stroke="#1a1a1a" stroke-width="0.35" transform="translate(290.55 588.70) rotate(-90)">R3</text>
<text x="-0.59" y="0.00" font-size="14.93" font-weight="normal" font-family='"Liberation Sans", sans-serif' fill="#1a1a1a" textLength="14.16" lengthAdjust="spacingAndGlyphs" stroke="#1a1a1a" stroke-width="0.35" transform="translate(283.45 658.00) rotate(-90)">R2</text>
<text x="-0.61" y="0.00" font-size="14.93" font-weight="normal" font-family='"Liberation Sans", sans-serif' fill="#1a1a1a" textLength="13.78" lengthAdjust="spacingAndGlyphs" stroke="#1a1a1a" stroke-width="0.35" transform="translate(287.05 726.00) rotate(-90)">P5</text>
<text x="-0.59" y="0.00" font-size="14.55" font-weight="normal" font-family='"Liberation Sans", sans-serif' fill="#1a1a1a" textLength="13.10" lengthAdjust="spacingAndGlyphs" stroke="#1a1a1a" stroke-width="0.35" transform="translate(269.65 782.60) rotate(-90)">P4</text>
<text x="-0.55" y="0.00" font-size="14.93" font-weight="normal" font-family='"Liberation Sans", sans-serif' fill="#1a1a1a" textLength="13.41" lengthAdjust="spacingAndGlyphs" stroke="#1a1a1a" stroke-width="0.35" transform="translate(272.55 812.80) rotate(-90)">R1</text>
<text x="-0.62" y="0.00" font-size="14.55" font-weight="normal" font-family='"Liberation Sans", sans-serif' fill="#1a1a1a" textLength="15.64" lengthAdjust="spacingAndGlyphs" stroke="#1a1a1a" stroke-width="0.35" transform="translate(282.25 847.40) rotate(-90)">M2</text>
<text x="-0.56" y="0.00" font-size="12.66" font-weight="normal" font-family='"Liberation Sans", sans-serif' fill="#1a1a1a" textLength="10.93" lengthAdjust="spacingAndGlyphs" stroke="#1a1a1a" stroke-width="0.35" transform="translate(279.75 878.90) rotate(-90)">P3</text>
<text x="0.15" y="0.00" font-size="10.58" font-weight="normal" font-family='"Liberation Sans", sans-serif' fill="#444" textLength="16.19" lengthAdjust="spacing" transform="translate(280.35 904.90) rotate(-90)">P11</text>
<text x="-0.63" y="0.00" font-size="14.74" font-weight="normal" font-family='"Liberation Sans", sans-serif' fill="#1a1a1a" textLength="16.04" lengthAdjust="spacingAndGlyphs" stroke="#1a1a1a" stroke-width="0.35" transform="translate(175.75 975.00) rotate(-90)">M3</text>
<text x="-0.56" y="0.00" font-size="14.93" font-weight="normal" font-family='"Liberation Sans", sans-serif' fill="#1a1a1a" textLength="13.03" lengthAdjust="spacingAndGlyphs" stroke="#1a1a1a" stroke-width="0.35" transform="translate(333.25 964.90) rotate(-90)">P2</text>
<text x="-0.59" y="0.00" font-size="14.93" font-weight="normal" font-family='"Liberation Sans", sans-serif' fill="#1a1a1a" textLength="14.06" lengthAdjust="spacingAndGlyphs" stroke="#1a1a1a" stroke-width="0.35" transform="translate(102.35 1031.60) rotate(-90)">R6</text>
<text x="-0.56" y="0.00" font-size="14.36" font-weight="normal" font-family='"Liberation Sans", sans-serif' fill="#1a1a1a" textLength="12.40" lengthAdjust="spacingAndGlyphs" stroke="#1a1a1a" stroke-width="0.35" transform="translate(185.65 1110.80) rotate(-90)">P1</text>
<text x="-0.64" y="0.00" font-size="14.55" font-weight="normal" font-family='"Liberation Sans", sans-serif' fill="#1a1a1a" textLength="15.96" lengthAdjust="spacingAndGlyphs" stroke="#1a1a1a" stroke-width="0.35" transform="translate(275.15 1101.80) rotate(-90)">M1</text>
<text x="-0.57" y="0.00" font-size="14.36" font-weight="normal" font-family='"Liberation Sans", sans-serif' fill="#1f2c3a" textLength="12.71" lengthAdjust="spacingAndGlyphs" stroke="#1f2c3a" stroke-width="0.15" transform="translate(65.15 1088.20) rotate(-90)">P7</text>
</g>
<g id="table-text" opacity="0.999">
<text x="696.57" y="52.90" font-size="22" font-weight="normal" font-family='"Liberation Sans", sans-serif' fill="#2a2a2a" textLength="105.68" lengthAdjust="spacingAndGlyphs">INITIATIVE</text>
<text x="698.60" y="64.80" font-size="10.8" font-weight="bold" font-family='"Liberation Serif", serif' fill="#2a2a2a" textLength="102.41" lengthAdjust="spacing">ENGINEERING</text>
<text x="1549.87" y="52.90" font-size="22" font-weight="normal" font-family='"Liberation Sans", sans-serif' fill="#2a2a2a" textLength="105.68" lengthAdjust="spacingAndGlyphs">INITIATIVE</text>
<text x="1551.90" y="64.80" font-size="10.8" font-weight="bold" font-family='"Liberation Serif", serif' fill="#2a2a2a" textLength="102.41" lengthAdjust="spacing">ENGINEERING</text>
<text x="32.10" y="62.70" font-size="25.6" font-weight="bold" font-family='"Liberation Sans", sans-serif' fill="#2b2b2b" textLength="191.84" lengthAdjust="spacingAndGlyphs">EXPLODED VIEW</text>
<text x="1204.43" y="78.20" font-size="25.3" font-weight="bold" font-family='"Liberation Sans", sans-serif' fill="#000" textLength="126.79" lengthAdjust="spacingAndGlyphs">PARTS LIST</text>
<text x="919.80" y="130.10" font-size="21.5" font-weight="bold" font-family='"Liberation Sans", sans-serif' fill="#000" textLength="70.53" lengthAdjust="spacingAndGlyphs">SR.NO.</text>
<text x="1077.19" y="130.10" font-size="21.5" font-weight="bold" font-family='"Liberation Sans", sans-serif' fill="#000" textLength="134.19" lengthAdjust="spacingAndGlyphs">DESCRIPTION</text>
<text x="1526.84" y="130.00" font-size="21.5" font-weight="bold" font-family='"Liberation Sans", sans-serif' fill="#000" textLength="91.76" lengthAdjust="spacingAndGlyphs">PART NO</text>
<text x="941.85" y="176.40" font-size="19" font-weight="normal" font-family='"Liberation Sans", sans-serif' fill="#000" textLength="18.22" lengthAdjust="spacingAndGlyphs">1.</text>
<text x="941.90" y="207.30" font-size="19" font-weight="normal" font-family='"Liberation Sans", sans-serif' fill="#000" textLength="17.40" lengthAdjust="spacingAndGlyphs">2.</text>
<text x="941.90" y="239.60" font-size="19" font-weight="normal" font-family='"Liberation Sans", sans-serif' fill="#000" textLength="17.40" lengthAdjust="spacingAndGlyphs">3.</text>
<text x="941.90" y="270.90" font-size="19" font-weight="normal" font-family='"Liberation Sans", sans-serif' fill="#000" textLength="17.62" lengthAdjust="spacingAndGlyphs">4.</text>
<text x="941.90" y="300.50" font-size="19" font-weight="normal" font-family='"Liberation Sans", sans-serif' fill="#000" textLength="17.62" lengthAdjust="spacingAndGlyphs">5.</text>
<text x="941.90" y="330.20" font-size="19" font-weight="normal" font-family='"Liberation Sans", sans-serif' fill="#000" textLength="17.62" lengthAdjust="spacingAndGlyphs">6.</text>
<text x="941.90" y="363.40" font-size="19" font-weight="normal" font-family='"Liberation Sans", sans-serif' fill="#000" textLength="17.62" lengthAdjust="spacingAndGlyphs">7.</text>
<text x="941.90" y="396.70" font-size="19" font-weight="normal" font-family='"Liberation Sans", sans-serif' fill="#000" textLength="17.62" lengthAdjust="spacingAndGlyphs">8.</text>
<text x="941.90" y="429.90" font-size="19" font-weight="normal" font-family='"Liberation Sans", sans-serif' fill="#000" textLength="17.62" lengthAdjust="spacingAndGlyphs">9.</text>
<text x="941.74" y="462.00" font-size="19" font-weight="normal" font-family='"Liberation Sans", sans-serif' fill="#000" textLength="28.13" lengthAdjust="spacingAndGlyphs">10.</text>
<text x="941.71" y="492.80" font-size="19" font-weight="normal" font-family='"Liberation Sans", sans-serif' fill="#000" textLength="21.51" lengthAdjust="spacingAndGlyphs">11</text>
<text x="941.74" y="525.40" font-size="19" font-weight="normal" font-family='"Liberation Sans", sans-serif' fill="#000" textLength="28.13" lengthAdjust="spacingAndGlyphs">12.</text>
<text x="941.74" y="556.50" font-size="19" font-weight="normal" font-family='"Liberation Sans", sans-serif' fill="#000" textLength="28.13" lengthAdjust="spacingAndGlyphs">13.</text>
<text x="941.74" y="585.50" font-size="19" font-weight="normal" font-family='"Liberation Sans", sans-serif' fill="#000" textLength="28.13" lengthAdjust="spacingAndGlyphs">14.</text>
<text x="941.74" y="614.70" font-size="19" font-weight="normal" font-family='"Liberation Sans", sans-serif' fill="#000" textLength="28.13" lengthAdjust="spacingAndGlyphs">15.</text>
<text x="941.74" y="645.50" font-size="19" font-weight="normal" font-family='"Liberation Sans", sans-serif' fill="#000" textLength="28.13" lengthAdjust="spacingAndGlyphs">16.</text>
<text x="941.74" y="678.50" font-size="19" font-weight="normal" font-family='"Liberation Sans", sans-serif' fill="#000" textLength="28.13" lengthAdjust="spacingAndGlyphs">17.</text>
<text x="941.74" y="709.40" font-size="19" font-weight="normal" font-family='"Liberation Sans", sans-serif' fill="#000" textLength="28.13" lengthAdjust="spacingAndGlyphs">18.</text>
<text x="941.74" y="745.00" font-size="19" font-weight="normal" font-family='"Liberation Sans", sans-serif' fill="#000" textLength="28.13" lengthAdjust="spacingAndGlyphs">19.</text>
<text x="941.90" y="777.90" font-size="19" font-weight="normal" font-family='"Liberation Sans", sans-serif' fill="#000" textLength="28.37" lengthAdjust="spacingAndGlyphs">20.</text>
<text x="941.90" y="810.60" font-size="19" font-weight="normal" font-family='"Liberation Sans", sans-serif' fill="#000" textLength="28.37" lengthAdjust="spacingAndGlyphs">21.</text>
<text x="941.90" y="844.30" font-size="19" font-weight="normal" font-family='"Liberation Sans", sans-serif' fill="#000" textLength="28.37" lengthAdjust="spacingAndGlyphs">22.</text>
<text x="941.90" y="879.40" font-size="19" font-weight="normal" font-family='"Liberation Sans", sans-serif' fill="#000" textLength="28.37" lengthAdjust="spacingAndGlyphs">23.</text>
<text x="941.90" y="914.30" font-size="19" font-weight="normal" font-family='"Liberation Sans", sans-serif' fill="#000" textLength="28.37" lengthAdjust="spacingAndGlyphs">24.</text>
<text x="941.90" y="947.50" font-size="19" font-weight="normal" font-family='"Liberation Sans", sans-serif' fill="#000" textLength="28.37" lengthAdjust="spacingAndGlyphs">25.</text>
<text x="941.90" y="981.20" font-size="19" font-weight="normal" font-family='"Liberation Sans", sans-serif' fill="#000" textLength="28.37" lengthAdjust="spacingAndGlyphs">26.</text>
<text x="941.90" y="1015.20" font-size="19" font-weight="normal" font-family='"Liberation Sans", sans-serif' fill="#000" textLength="28.37" lengthAdjust="spacingAndGlyphs">27.</text>
<text x="1081.81" y="176.40" font-size="19" font-weight="normal" font-family='"Liberation Sans", sans-serif' fill="#000" textLength="65.40" lengthAdjust="spacingAndGlyphs">Handle</text>
<text x="1082.52" y="204.90" font-size="19" font-weight="normal" font-family='"Liberation Sans", sans-serif' fill="#000" textLength="137.09" lengthAdjust="spacingAndGlyphs">Upper Housing</text>
<text x="1083.60" y="238.20" font-size="19" font-weight="normal" font-family='"Liberation Sans", sans-serif' fill="#000" textLength="128.29" lengthAdjust="spacingAndGlyphs">Spring washer</text>
<text x="1080.83" y="271.30" font-size="19" font-weight="normal" font-family='"Liberation Sans", sans-serif' fill="#000" textLength="113.95" lengthAdjust="spacingAndGlyphs">Disc Washer</text>
<text x="1080.86" y="300.50" font-size="19" font-weight="normal" font-family='"Liberation Sans", sans-serif' fill="#000" textLength="38.46" lengthAdjust="spacingAndGlyphs">Disc</text>
<text x="1080.82" y="329.00" font-size="19" font-weight="normal" font-family='"Liberation Sans", sans-serif' fill="#000" textLength="136.39" lengthAdjust="spacingAndGlyphs">Lower Housing</text>
<text x="1080.83" y="362.70" font-size="19" font-weight="normal" font-family='"Liberation Sans", sans-serif' fill="#000" textLength="201.74" lengthAdjust="spacingAndGlyphs">Inlet Union Asessmbly</text>
<text x="1081.90" y="395.50" font-size="19" font-weight="normal" font-family='"Liberation Sans", sans-serif' fill="#000" textLength="218.46" lengthAdjust="spacingAndGlyphs">Outlet Union Asessmbly</text>
<text x="1080.83" y="428.70" font-size="19" font-weight="normal" font-family='"Liberation Sans", sans-serif' fill="#000" textLength="202.43" lengthAdjust="spacingAndGlyphs">Drain Elbow Assembly</text>
<text x="1080.84" y="462.00" font-size="19" font-weight="normal" font-family='"Liberation Sans", sans-serif' fill="#000" textLength="46.85" lengthAdjust="spacingAndGlyphs">Band</text>
<text x="1080.83" y="491.20" font-size="19" font-weight="normal" font-family='"Liberation Sans", sans-serif' fill="#000" textLength="185.78" lengthAdjust="spacingAndGlyphs">Upper Housing bush</text>
<text x="1078.42" y="586.60" font-size="19" font-weight="normal" font-family='"Liberation Sans", sans-serif' fill="#000" textLength="63.85" lengthAdjust="spacingAndGlyphs">Ejector</text>
<text x="1078.95" y="643.60" font-size="19" font-weight="normal" font-family='"Liberation Sans", sans-serif' fill="#000" textLength="48.74" lengthAdjust="spacingAndGlyphs">U Pin</text>
<text x="1078.93" y="676.10" font-size="19" font-weight="normal" font-family='"Liberation Sans", sans-serif' fill="#000" textLength="163.62" lengthAdjust="spacingAndGlyphs">Handle Pin (8mm)</text>
<text x="1080.00" y="707.70" font-size="19" font-weight="normal" font-family='"Liberation Sans", sans-serif' fill="#000" textLength="57.90" lengthAdjust="spacingAndGlyphs">Spring</text>
<text x="1078.21" y="745.00" font-size="19" font-weight="normal" font-family='"Liberation Sans", sans-serif' fill="#000" textLength="120.44" lengthAdjust="spacingAndGlyphs">Bolt (M6X28)</text>
<text x="1078.17" y="778.00" font-size="19" font-weight="normal" font-family='"Liberation Sans", sans-serif' fill="#000" textLength="83.30" lengthAdjust="spacingAndGlyphs">Nut (M6)</text>
<text x="1079.30" y="812.20" font-size="19" font-weight="normal" font-family='"Liberation Sans", sans-serif' fill="#000" textLength="164.46" lengthAdjust="spacingAndGlyphs">Split Washer (M6)</text>
<text x="1077.04" y="845.50" font-size="19" font-weight="normal" font-family='"Liberation Sans", sans-serif' fill="#000" textLength="208.71" lengthAdjust="spacingAndGlyphs">Disc ‘O’ ring (18.5X3.6)</text>
<text x="1078.80" y="878.70" font-size="19" font-weight="normal" font-family='"Liberation Sans", sans-serif' fill="#000" textLength="106.89" lengthAdjust="spacingAndGlyphs">Star washer</text>
<text x="1077.04" y="910.70" font-size="19" font-weight="normal" font-family='"Liberation Sans", sans-serif' fill="#000" textLength="378.90" lengthAdjust="spacingAndGlyphs">Lower Housing Flange ‘O’ Ring (139x4.70)</text>
<text x="1553.87" y="176.40" font-size="19" font-weight="normal" font-family='"Liberation Sans", sans-serif' fill="#000" textLength="23.91" lengthAdjust="spacingAndGlyphs">P1</text>
<text x="1553.87" y="207.30" font-size="19" font-weight="normal" font-family='"Liberation Sans", sans-serif' fill="#000" textLength="23.91" lengthAdjust="spacingAndGlyphs">P2</text>
<text x="1553.87" y="240.20" font-size="19" font-weight="normal" font-family='"Liberation Sans", sans-serif' fill="#000" textLength="23.91" lengthAdjust="spacingAndGlyphs">P3</text>
<text x="1553.92" y="272.10" font-size="19" font-weight="normal" font-family='"Liberation Sans", sans-serif' fill="#000" textLength="22.86" lengthAdjust="spacingAndGlyphs">P4</text>
<text x="1553.87" y="300.70" font-size="19" font-weight="normal" font-family='"Liberation Sans", sans-serif' fill="#000" textLength="23.91" lengthAdjust="spacingAndGlyphs">P5</text>
<text x="1553.87" y="331.00" font-size="19" font-weight="normal" font-family='"Liberation Sans", sans-serif' fill="#000" textLength="23.91" lengthAdjust="spacingAndGlyphs">P6</text>
<text x="1553.87" y="364.00" font-size="19" font-weight="normal" font-family='"Liberation Sans", sans-serif' fill="#000" textLength="23.91" lengthAdjust="spacingAndGlyphs">P7</text>
<text x="1553.87" y="397.60" font-size="19" font-weight="normal" font-family='"Liberation Sans", sans-serif' fill="#000" textLength="23.91" lengthAdjust="spacingAndGlyphs">P8</text>
<text x="1553.87" y="430.30" font-size="19" font-weight="normal" font-family='"Liberation Sans", sans-serif' fill="#000" textLength="23.91" lengthAdjust="spacingAndGlyphs">P9</text>
<text x="1553.84" y="463.00" font-size="19" font-weight="normal" font-family='"Liberation Sans", sans-serif' fill="#000" textLength="35.76" lengthAdjust="spacingAndGlyphs">P10</text>
<text x="1553.81" y="494.00" font-size="19" font-weight="normal" font-family='"Liberation Sans", sans-serif' fill="#000" textLength="35.20" lengthAdjust="spacingAndGlyphs">P11</text>
<text x="1553.84" y="525.40" font-size="19" font-weight="normal" font-family='"Liberation Sans", sans-serif' fill="#000" textLength="35.76" lengthAdjust="spacingAndGlyphs">P12</text>
<text x="1553.84" y="553.80" font-size="19" font-weight="normal" font-family='"Liberation Sans", sans-serif' fill="#000" textLength="35.76" lengthAdjust="spacingAndGlyphs">P13</text>
<text x="1553.87" y="583.00" font-size="19" font-weight="normal" font-family='"Liberation Sans", sans-serif' fill="#000" textLength="34.68" lengthAdjust="spacingAndGlyphs">P14</text>
<text x="1553.73" y="676.30" font-size="19" font-weight="normal" font-family='"Liberation Sans", sans-serif' fill="#000" textLength="30.94" lengthAdjust="spacingAndGlyphs">M1</text>
<text x="1553.73" y="709.40" font-size="19" font-weight="normal" font-family='"Liberation Sans", sans-serif' fill="#000" textLength="30.94" lengthAdjust="spacingAndGlyphs">M2</text>
<text x="1553.73" y="746.20" font-size="19" font-weight="normal" font-family='"Liberation Sans", sans-serif' fill="#000" textLength="30.94" lengthAdjust="spacingAndGlyphs">M3</text>
<text x="1553.77" y="777.80" font-size="19" font-weight="normal" font-family='"Liberation Sans", sans-serif' fill="#000" textLength="29.74" lengthAdjust="spacingAndGlyphs">M4</text>
<text x="1553.73" y="813.20" font-size="19" font-weight="normal" font-family='"Liberation Sans", sans-serif' fill="#000" textLength="30.94" lengthAdjust="spacingAndGlyphs">M5</text>
<text x="1553.91" y="846.20" font-size="19" font-weight="normal" font-family='"Liberation Sans", sans-serif' fill="#000" textLength="24.05" lengthAdjust="spacingAndGlyphs">R1</text>
<text x="1553.91" y="879.20" font-size="19" font-weight="normal" font-family='"Liberation Sans", sans-serif' fill="#000" textLength="24.05" lengthAdjust="spacingAndGlyphs">R2</text>
<text x="1553.91" y="911.30" font-size="19" font-weight="normal" font-family='"Liberation Sans", sans-serif' fill="#000" textLength="24.05" lengthAdjust="spacingAndGlyphs">R3</text>
<text x="1553.95" y="948.30" font-size="19" font-weight="normal" font-family='"Liberation Sans", sans-serif' fill="#000" textLength="23.04" lengthAdjust="spacingAndGlyphs">R4</text>
<text x="1553.91" y="983.90" font-size="19" font-weight="normal" font-family='"Liberation Sans", sans-serif' fill="#000" textLength="24.05" lengthAdjust="spacingAndGlyphs">R5</text>
<text x="1553.91" y="1012.20" font-size="19" font-weight="normal" font-family='"Liberation Sans", sans-serif' fill="#000" textLength="24.05" lengthAdjust="spacingAndGlyphs">R6</text>
<text x="1553.91" y="1043.30" font-size="19" font-weight="normal" font-family='"Liberation Sans", sans-serif' fill="#000" textLength="24.05" lengthAdjust="spacingAndGlyphs">R7</text>
<text x="1553.91" y="1073.50" font-size="19" font-weight="normal" font-family='"Liberation Sans", sans-serif' fill="#000" textLength="24.05" lengthAdjust="spacingAndGlyphs">R8</text>
</g>
</svg>
</body></html>
